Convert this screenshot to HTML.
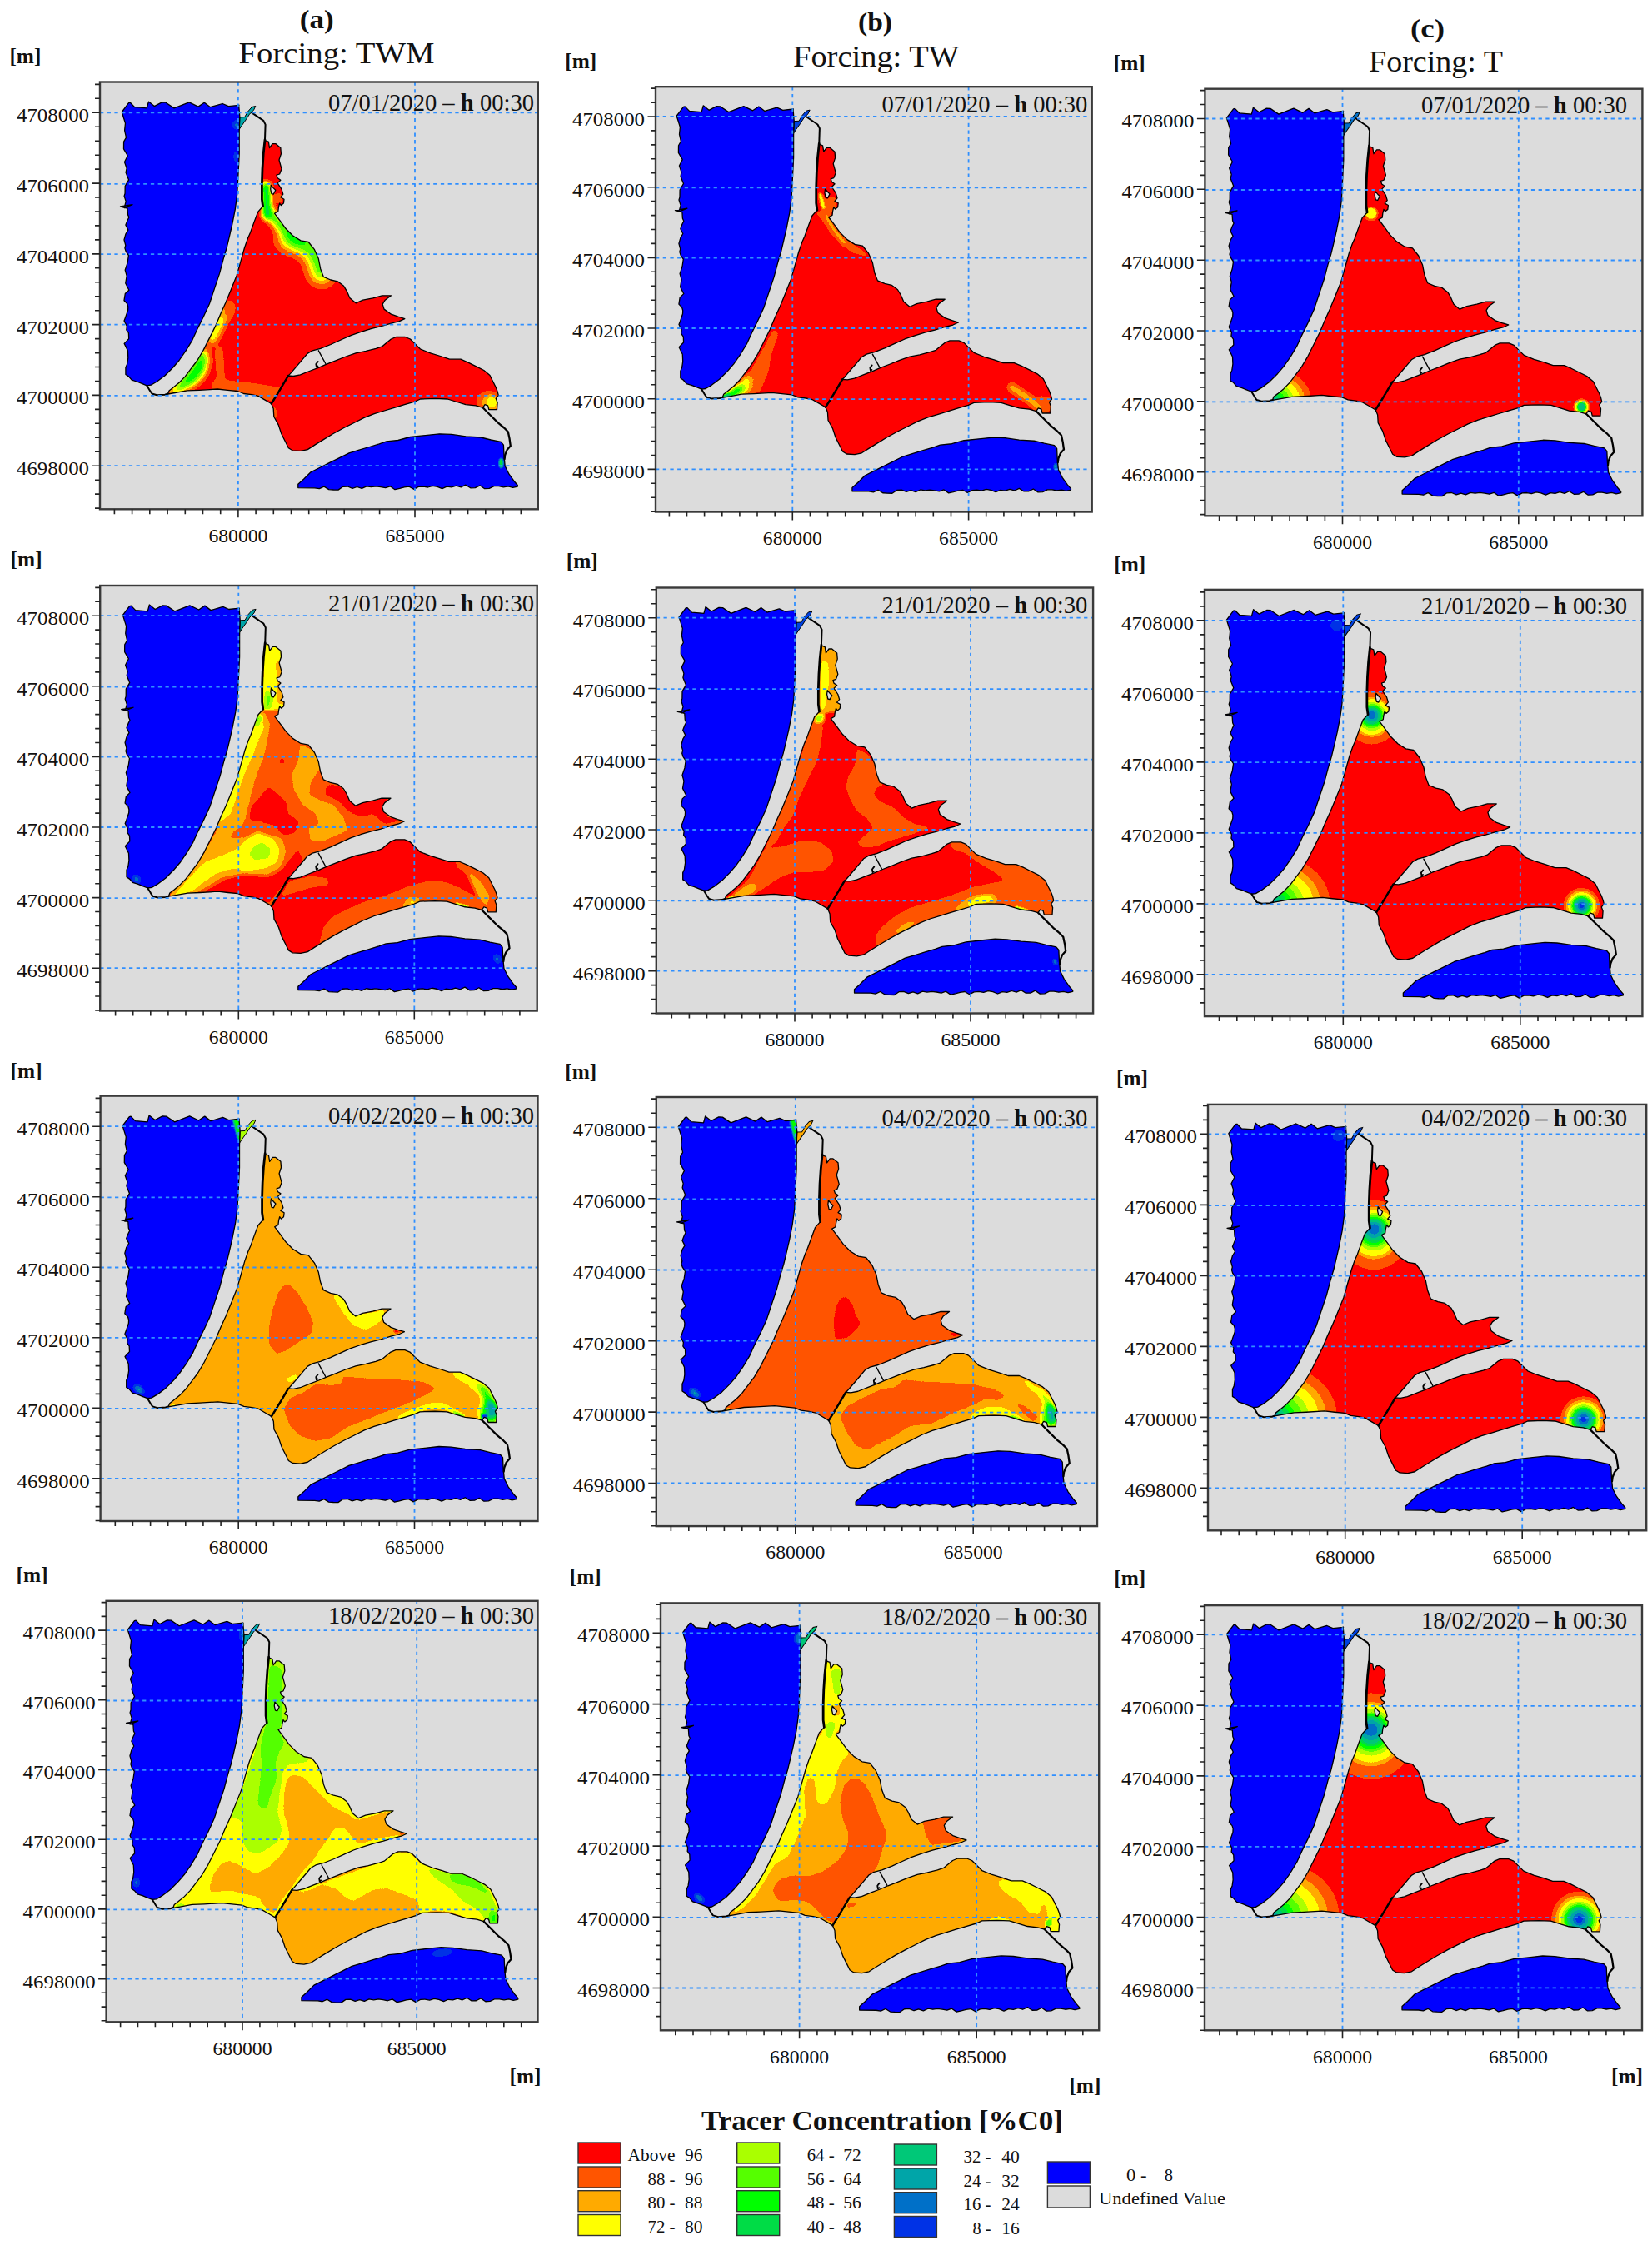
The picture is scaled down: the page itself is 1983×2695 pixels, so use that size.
<!DOCTYPE html>
<html><head><meta charset="utf-8"><title>Tracer Concentration</title>
<style>html,body{margin:0;padding:0;background:#fff}svg{display:block}text{font-family:"Liberation Serif", "DejaVu Serif", serif;fill:#111}</style></head><body>
<svg width="1983" height="2695" viewBox="0 0 1983 2695">
<defs>
<filter id="bands" filterUnits="userSpaceOnUse" x="100" y="90" width="560" height="530" color-interpolation-filters="sRGB"><feGaussianBlur stdDeviation="0.6"/><feComponentTransfer><feFuncR type="discrete" tableValues="0.0000 0.0000 0.0000 0.0000 0.0000 0.0000 0.0000 0.3333 0.6667 1.0000 1.0000 1.0000 1.0000"/><feFuncG type="discrete" tableValues="0.0000 0.1961 0.4392 0.6471 0.7843 0.8627 1.0000 1.0000 1.0000 1.0000 0.6667 0.3333 0.0000"/><feFuncB type="discrete" tableValues="1.0000 0.9020 0.7843 0.6588 0.4706 0.2745 0.0000 0.0000 0.0000 0.0000 0.0000 0.0000 0.0000"/><feFuncA type="linear" slope="0" intercept="1"/></feComponentTransfer></filter>
<filter id="b1" filterUnits="userSpaceOnUse" x="60" y="60" width="640" height="600" color-interpolation-filters="sRGB"><feGaussianBlur stdDeviation="1"/></filter>
<filter id="b2" filterUnits="userSpaceOnUse" x="60" y="60" width="640" height="600" color-interpolation-filters="sRGB"><feGaussianBlur stdDeviation="2"/></filter>
<filter id="b3" filterUnits="userSpaceOnUse" x="60" y="60" width="640" height="600" color-interpolation-filters="sRGB"><feGaussianBlur stdDeviation="3"/></filter>
<filter id="b4" filterUnits="userSpaceOnUse" x="60" y="60" width="640" height="600" color-interpolation-filters="sRGB"><feGaussianBlur stdDeviation="4"/></filter>
<filter id="b5" filterUnits="userSpaceOnUse" x="60" y="60" width="640" height="600" color-interpolation-filters="sRGB"><feGaussianBlur stdDeviation="5"/></filter>
<filter id="b6" filterUnits="userSpaceOnUse" x="60" y="60" width="640" height="600" color-interpolation-filters="sRGB"><feGaussianBlur stdDeviation="6"/></filter>
<filter id="b7" filterUnits="userSpaceOnUse" x="60" y="60" width="640" height="600" color-interpolation-filters="sRGB"><feGaussianBlur stdDeviation="7"/></filter>
<filter id="b8" filterUnits="userSpaceOnUse" x="60" y="60" width="640" height="600" color-interpolation-filters="sRGB"><feGaussianBlur stdDeviation="8"/></filter>
<filter id="b9" filterUnits="userSpaceOnUse" x="60" y="60" width="640" height="600" color-interpolation-filters="sRGB"><feGaussianBlur stdDeviation="9"/></filter>
<filter id="b10" filterUnits="userSpaceOnUse" x="60" y="60" width="640" height="600" color-interpolation-filters="sRGB"><feGaussianBlur stdDeviation="10"/></filter>
<filter id="b11" filterUnits="userSpaceOnUse" x="60" y="60" width="640" height="600" color-interpolation-filters="sRGB"><feGaussianBlur stdDeviation="11"/></filter>
<filter id="b12" filterUnits="userSpaceOnUse" x="60" y="60" width="640" height="600" color-interpolation-filters="sRGB"><feGaussianBlur stdDeviation="12"/></filter>
<filter id="b13" filterUnits="userSpaceOnUse" x="60" y="60" width="640" height="600" color-interpolation-filters="sRGB"><feGaussianBlur stdDeviation="13"/></filter>
<filter id="b14" filterUnits="userSpaceOnUse" x="60" y="60" width="640" height="600" color-interpolation-filters="sRGB"><feGaussianBlur stdDeviation="14"/></filter>
<filter id="b15" filterUnits="userSpaceOnUse" x="60" y="60" width="640" height="600" color-interpolation-filters="sRGB"><feGaussianBlur stdDeviation="15"/></filter>
<clipPath id="cN"><path d="M318 169 L319.2 169 L322.3 170.2 L323.5 177.5 L327.1 172.6 L330.8 172.6 L336.8 177.5 L337.4 184.7 L335 192 L338 202.9 L335.6 209 L332 210.2 L333.2 213.8 L336.8 216.2 L333.2 219.9 L338 227.1 L339.8 233.2 L336.8 236.8 L341 239.2 L340.4 244.1 L337.4 246.5 L335.6 244.1 L334.4 248.9 L333.8 253.8 L329.5 256.2 L336.8 265.9 L342.9 274.3 L351.3 282.8 L361 288.9 L370.2 290.5 L377.5 299.7 L382.3 310.6 L384.7 322.7 L388.4 332.4 L396.9 336 L405.3 337.8 L412.6 343.3 L416.2 349.3 L419.9 357.8 L427.1 363.8 L435.6 360.2 L447.7 357.8 L458.6 354.8 L469.5 354.8 L462.2 360.2 L459.2 365.1 L461 371.1 L469.5 377.2 L478 380.2 L485.8 382.6 L479.2 385.6 L469.5 388.1 L457.4 391.7 L445.3 394.7 L433.2 398.4 L421.1 402.6 L409 408 L396.9 413.5 L384.7 418.3 L375.1 420.8 L369 424.4 L362.9 431.7 L355.7 440.1 L348.4 448.6 L346 451 L339.1 462.7 L331.8 474.8 L325.7 484.5 L317.3 479.6 L310 475.4 L302.2 473.7 L292.5 472.5 L285.3 469.5 L273.2 468.3 L261.1 467 L239.3 468.3 L224.7 468.9 L210 471.5 L201.5 473 L203 468.9 L207.8 465.2 L215.1 459.2 L222.3 451.9 L229.6 442.2 L236.9 432.5 L244.1 420.4 L251.4 405.9 L258.6 391.4 L264.7 376.9 L270.8 363.5 L276.8 349 L284.1 330.8 L288.9 313.9 L293.5 297.5 L297.5 286 L300.5 279.2 L305.3 265.9 L309.6 254.4 L315.6 247.7 L314.4 239.2 L314.4 221.1 L315 202.9 L316.2 184.7ZM325.3 222.3 L328.3 225.9 L330.8 228.3 L328.3 233.2 L325.9 232.6 L324.7 227.1Z" clip-rule="evenodd"/></clipPath>
<clipPath id="cE"><path d="M325.7 484.5 L331.8 474.8 L339.1 462.7 L346 451 L352.1 451.5 L360.5 449.8 L372.6 445 L382.3 441.3 L392 437.1 L402.9 432.9 L415 428 L427.1 423.8 L439.2 421.4 L451.3 418.3 L458.6 415.9 L462.1 413 L469.4 407 L475.4 404.5 L486.3 404.5 L492.4 407 L498.4 413 L504.5 419 L516.6 423.9 L528.7 427.5 L539.6 431.2 L552.9 431.2 L561.4 434.8 L571.1 439.6 L580.8 444.5 L588 450.5 L591.6 457.8 L595.3 465.1 L597.1 469.9 L598.3 474.7 L595.3 478.4 L597.1 483.2 L596.5 491.7 L586.8 491.7 L585.6 486.9 L582 485.6 L579.5 489.3 L571.1 486.9 L559 485.6 L546.9 482 L537.2 479 L522.6 478.4 L504.5 479 L497.7 482.1 L485.5 485.7 L473.4 489.3 L461.3 493 L449.2 496.6 L437.1 501.4 L425 507.5 L412.9 513.5 L399.6 520.8 L387.5 528.1 L377.8 534.1 L369.3 539.6 L360.8 541.4 L351.2 540.8 L346.3 537.8 L342.7 530.5 L337.8 520.8 L334.2 509.9 L328.8 500.2 L328.2 490.5Z"/></clipPath>
<clipPath id="cW"><path d="M146.3 134.5 L154.5 123.6 L156.3 123.2 L161.7 128.7 L176.3 129.9 L178.4 122.1 L185.3 127.6 L194.4 122.9 L199 123.2 L209 129.9 L227.1 122.9 L238 128.1 L245.3 123.2 L252.5 128.7 L267.1 124.5 L274.3 127.6 L287 126.3 L286.6 126 L287.8 140 L287.2 158.1 L287.2 184.7 L286 209 L284.7 233.2 L282.3 251.3 L278.7 269.5 L275.1 285.2 L272 298 L268.3 310.3 L263.5 328.4 L257.4 346.6 L251.4 364.7 L244.1 380.5 L236.9 395 L230.8 408.3 L223.5 420.4 L215.1 432.5 L207.8 441 L198.1 450.7 L188.4 458 L181.2 462.2 L176.3 462.8 L170.3 460.4 L164.2 458 L158.2 456.2 L154.5 451.9 L150.9 449.5 L150.9 441 L152.7 437 L153.8 429.5 L153.4 420.9 L149.2 412.4 L154.7 406.6 L154.4 399.7 L151.8 396 L152.3 391.5 L149.1 385.1 L150.7 380.8 L153.6 372.3 L153.8 368.3 L152.7 364.5 L149 360.7 L150.3 352.5 L154.9 348.2 L150.7 340 L152.2 331.2 L150.2 324.1 L153.1 315.5 L154.4 306.7 L151.2 301.9 L149.9 297.9 L150.8 294.5 L149 287.9 L151 280.8 L153.9 276 L150.9 270.1 L153.2 264.2 L154.9 260.8 L153.5 257.7 L153 250 L144.5 248 L159 245.6 L149.1 249.6 L151.2 241.9 L149.1 235.4 L150.1 232.2 L150.2 223.4 L154.6 215.9 L151.1 207.2 L152.1 202.1 L149.5 194.5 L153.3 187 L148.5 178.8 L148.6 170.1 L151.5 165.1 L149.6 156.6 L150.5 148 L149 143.2Z"/></clipPath>
<clipPath id="cS"><path d="M357.8 581.3 L364.5 575.3 L373 566.8 L382.6 562 L394.7 555.9 L406.9 549.9 L419 543.8 L431.1 540.2 L443.2 536.5 L455.3 532.9 L463.8 529.9 L477.8 528.5 L492.4 524.5 L510.5 522.6 L527.5 520.8 L542 521.4 L559 523.8 L577.1 525 L589.2 528 L601.3 530.4 L604.4 534.1 L605 547.4 L606.2 559.5 L611 569.2 L617.1 577.7 L621.3 582.5 L621.3 584 L615.6 585.3 L610 583.9 L604.3 584.8 L598.6 583.7 L593 583.7 L587.3 586.4 L581.7 586.7 L576 582.8 L570.3 585.7 L564.7 585.8 L559 582.2 L553.3 584.8 L547.6 583.1 L542 584.9 L536.3 584.2 L530.7 586.6 L525 584.3 L519.3 583.3 L513.6 585 L508 584 L502.3 584.4 L496.7 587.3 L491 584.1 L485.3 584.9 L479.7 586.4 L474 587.7 L468.3 583.8 L462.7 585.7 L457 584.6 L451.3 583.9 L445.6 584.7 L440 583.8 L434.3 586.4 L428.6 584.5 L423 586.3 L417.3 584 L411.6 584.3 L406 588.1 L400.3 588 L394.7 587.6 L389 584.1 L383.3 586.7 L377.7 585.8 L357.8 585.6Z"/></clipPath>
<path id="pN" d="M318 169 L319.2 169 L322.3 170.2 L323.5 177.5 L327.1 172.6 L330.8 172.6 L336.8 177.5 L337.4 184.7 L335 192 L338 202.9 L335.6 209 L332 210.2 L333.2 213.8 L336.8 216.2 L333.2 219.9 L338 227.1 L339.8 233.2 L336.8 236.8 L341 239.2 L340.4 244.1 L337.4 246.5 L335.6 244.1 L334.4 248.9 L333.8 253.8 L329.5 256.2 L336.8 265.9 L342.9 274.3 L351.3 282.8 L361 288.9 L370.2 290.5 L377.5 299.7 L382.3 310.6 L384.7 322.7 L388.4 332.4 L396.9 336 L405.3 337.8 L412.6 343.3 L416.2 349.3 L419.9 357.8 L427.1 363.8 L435.6 360.2 L447.7 357.8 L458.6 354.8 L469.5 354.8 L462.2 360.2 L459.2 365.1 L461 371.1 L469.5 377.2 L478 380.2 L485.8 382.6 L479.2 385.6 L469.5 388.1 L457.4 391.7 L445.3 394.7 L433.2 398.4 L421.1 402.6 L409 408 L396.9 413.5 L384.7 418.3 L375.1 420.8 L369 424.4 L362.9 431.7 L355.7 440.1 L348.4 448.6 L346 451 L339.1 462.7 L331.8 474.8 L325.7 484.5 L317.3 479.6 L310 475.4 L302.2 473.7 L292.5 472.5 L285.3 469.5 L273.2 468.3 L261.1 467 L239.3 468.3 L224.7 468.9 L210 471.5 L201.5 473 L203 468.9 L207.8 465.2 L215.1 459.2 L222.3 451.9 L229.6 442.2 L236.9 432.5 L244.1 420.4 L251.4 405.9 L258.6 391.4 L264.7 376.9 L270.8 363.5 L276.8 349 L284.1 330.8 L288.9 313.9 L293.5 297.5 L297.5 286 L300.5 279.2 L305.3 265.9 L309.6 254.4 L315.6 247.7 L314.4 239.2 L314.4 221.1 L315 202.9 L316.2 184.7ZM325.3 222.3 L328.3 225.9 L330.8 228.3 L328.3 233.2 L325.9 232.6 L324.7 227.1Z" fill-rule="evenodd"/>
<path id="pE" d="M325.7 484.5 L331.8 474.8 L339.1 462.7 L346 451 L352.1 451.5 L360.5 449.8 L372.6 445 L382.3 441.3 L392 437.1 L402.9 432.9 L415 428 L427.1 423.8 L439.2 421.4 L451.3 418.3 L458.6 415.9 L462.1 413 L469.4 407 L475.4 404.5 L486.3 404.5 L492.4 407 L498.4 413 L504.5 419 L516.6 423.9 L528.7 427.5 L539.6 431.2 L552.9 431.2 L561.4 434.8 L571.1 439.6 L580.8 444.5 L588 450.5 L591.6 457.8 L595.3 465.1 L597.1 469.9 L598.3 474.7 L595.3 478.4 L597.1 483.2 L596.5 491.7 L586.8 491.7 L585.6 486.9 L582 485.6 L579.5 489.3 L571.1 486.9 L559 485.6 L546.9 482 L537.2 479 L522.6 478.4 L504.5 479 L497.7 482.1 L485.5 485.7 L473.4 489.3 L461.3 493 L449.2 496.6 L437.1 501.4 L425 507.5 L412.9 513.5 L399.6 520.8 L387.5 528.1 L377.8 534.1 L369.3 539.6 L360.8 541.4 L351.2 540.8 L346.3 537.8 L342.7 530.5 L337.8 520.8 L334.2 509.9 L328.8 500.2 L328.2 490.5Z"/>
<path id="pW" d="M146.3 134.5 L154.5 123.6 L156.3 123.2 L161.7 128.7 L176.3 129.9 L178.4 122.1 L185.3 127.6 L194.4 122.9 L199 123.2 L209 129.9 L227.1 122.9 L238 128.1 L245.3 123.2 L252.5 128.7 L267.1 124.5 L274.3 127.6 L287 126.3 L286.6 126 L287.8 140 L287.2 158.1 L287.2 184.7 L286 209 L284.7 233.2 L282.3 251.3 L278.7 269.5 L275.1 285.2 L272 298 L268.3 310.3 L263.5 328.4 L257.4 346.6 L251.4 364.7 L244.1 380.5 L236.9 395 L230.8 408.3 L223.5 420.4 L215.1 432.5 L207.8 441 L198.1 450.7 L188.4 458 L181.2 462.2 L176.3 462.8 L170.3 460.4 L164.2 458 L158.2 456.2 L154.5 451.9 L150.9 449.5 L150.9 441 L152.7 437 L153.8 429.5 L153.4 420.9 L149.2 412.4 L154.7 406.6 L154.4 399.7 L151.8 396 L152.3 391.5 L149.1 385.1 L150.7 380.8 L153.6 372.3 L153.8 368.3 L152.7 364.5 L149 360.7 L150.3 352.5 L154.9 348.2 L150.7 340 L152.2 331.2 L150.2 324.1 L153.1 315.5 L154.4 306.7 L151.2 301.9 L149.9 297.9 L150.8 294.5 L149 287.9 L151 280.8 L153.9 276 L150.9 270.1 L153.2 264.2 L154.9 260.8 L153.5 257.7 L153 250 L144.5 248 L159 245.6 L149.1 249.6 L151.2 241.9 L149.1 235.4 L150.1 232.2 L150.2 223.4 L154.6 215.9 L151.1 207.2 L152.1 202.1 L149.5 194.5 L153.3 187 L148.5 178.8 L148.6 170.1 L151.5 165.1 L149.6 156.6 L150.5 148 L149 143.2Z"/>
<path id="pS" d="M357.8 581.3 L364.5 575.3 L373 566.8 L382.6 562 L394.7 555.9 L406.9 549.9 L419 543.8 L431.1 540.2 L443.2 536.5 L455.3 532.9 L463.8 529.9 L477.8 528.5 L492.4 524.5 L510.5 522.6 L527.5 520.8 L542 521.4 L559 523.8 L577.1 525 L589.2 528 L601.3 530.4 L604.4 534.1 L605 547.4 L606.2 559.5 L611 569.2 L617.1 577.7 L621.3 582.5 L621.3 584 L615.6 585.3 L610 583.9 L604.3 584.8 L598.6 583.7 L593 583.7 L587.3 586.4 L581.7 586.7 L576 582.8 L570.3 585.7 L564.7 585.8 L559 582.2 L553.3 584.8 L547.6 583.1 L542 584.9 L536.3 584.2 L530.7 586.6 L525 584.3 L519.3 583.3 L513.6 585 L508 584 L502.3 584.4 L496.7 587.3 L491 584.1 L485.3 584.9 L479.7 586.4 L474 587.7 L468.3 583.8 L462.7 585.7 L457 584.6 L451.3 583.9 L445.6 584.7 L440 583.8 L434.3 586.4 L428.6 584.5 L423 586.3 L417.3 584 L411.6 584.3 L406 588.1 L400.3 588 L394.7 587.6 L389 584.1 L383.3 586.7 L377.7 585.8 L357.8 585.6Z"/>
<g id="coast" fill="none" stroke="#000" stroke-linejoin="round" stroke-linecap="round"><path d="M302.2 135.3 L316.2 144.8 L318.6 149.6 L318 167.8" stroke-width="2"/><path d="M318 167.8 L316.2 184.7 L315 202.9 L314.4 221.1 L314.4 239.2 L315.6 247.7" stroke-width="2.8"/><path d="M176.3 462.8 L180 468.9 L182.4 472.5 L188.4 474.3 L198.1 473.7 L201.7 472.5" stroke-width="2"/><path d="M579.5 489.3 L589.2 499 L597.7 507.4 L605 513.5 L609.8 518.3 L611.6 526.8 L612.8 535.3 L608.6 540.1 L606.2 546.2 L605.6 551" stroke-width="2.3"/><path d="M325.7 484.5 L331.8 474.8 L339.1 462.7 L346 451" stroke-width="2.4"/><path d="M382.3 420.8 L390.8 436.5" stroke-width="1.4"/><path d="M381.7 434 L379.3 437.1 L379.9 440.7 L381.4 439.5" stroke-width="1.8"/></g>
<radialGradient id="rg1" color-interpolation="sRGB"><stop offset="0.000" stop-color="#3b3b3b"/><stop offset="0.149" stop-color="#626262"/><stop offset="0.307" stop-color="#898989"/><stop offset="0.426" stop-color="#9d9d9d"/><stop offset="0.535" stop-color="#b1b1b1"/><stop offset="0.693" stop-color="#c4c4c4"/><stop offset="0.822" stop-color="#d8d8d8"/><stop offset="0.990" stop-color="#ebebeb"/><stop offset="1.000" stop-color="#f5f5f5"/></radialGradient><radialGradient id="rg2" color-interpolation="sRGB" fx="0.5" fy="0.432"><stop offset="0.000" stop-color="#b1b1b1"/><stop offset="0.149" stop-color="#b1b1b1"/><stop offset="0.228" stop-color="#b1b1b1"/><stop offset="0.297" stop-color="#b1b1b1"/><stop offset="0.455" stop-color="#b1b1b1"/><stop offset="0.535" stop-color="#b1b1b1"/><stop offset="0.663" stop-color="#c4c4c4"/><stop offset="0.743" stop-color="#d8d8d8"/><stop offset="0.990" stop-color="#ebebeb"/><stop offset="1.000" stop-color="#f5f5f5"/></radialGradient><radialGradient id="rg3" color-interpolation="sRGB"><stop offset="0.000" stop-color="#535353"/><stop offset="0.119" stop-color="#535353"/><stop offset="0.218" stop-color="#535353"/><stop offset="0.317" stop-color="#535353"/><stop offset="0.396" stop-color="#626262"/><stop offset="0.554" stop-color="#9d9d9d"/><stop offset="0.634" stop-color="#b1b1b1"/><stop offset="0.733" stop-color="#c4c4c4"/><stop offset="0.842" stop-color="#d8d8d8"/><stop offset="0.990" stop-color="#ebebeb"/><stop offset="1.000" stop-color="#f5f5f5"/></radialGradient><radialGradient id="rg4" color-interpolation="sRGB"><stop offset="0.000" stop-color="#3b3b3b"/><stop offset="0.149" stop-color="#626262"/><stop offset="0.307" stop-color="#898989"/><stop offset="0.426" stop-color="#9d9d9d"/><stop offset="0.535" stop-color="#b1b1b1"/><stop offset="0.693" stop-color="#c4c4c4"/><stop offset="0.822" stop-color="#d8d8d8"/><stop offset="0.990" stop-color="#ebebeb"/><stop offset="1.000" stop-color="#f5f5f5"/></radialGradient><radialGradient id="rg5" color-interpolation="sRGB" fx="0.5" fy="0.438"><stop offset="0.000" stop-color="#2c2c2c"/><stop offset="0.149" stop-color="#3b3b3b"/><stop offset="0.228" stop-color="#4e4e4e"/><stop offset="0.297" stop-color="#626262"/><stop offset="0.455" stop-color="#9d9d9d"/><stop offset="0.535" stop-color="#b1b1b1"/><stop offset="0.663" stop-color="#c4c4c4"/><stop offset="0.743" stop-color="#d8d8d8"/><stop offset="0.990" stop-color="#ebebeb"/><stop offset="1.000" stop-color="#f5f5f5"/></radialGradient><radialGradient id="rg6" color-interpolation="sRGB"><stop offset="0.000" stop-color="#141414"/><stop offset="0.119" stop-color="#272727"/><stop offset="0.218" stop-color="#3b3b3b"/><stop offset="0.317" stop-color="#4e4e4e"/><stop offset="0.396" stop-color="#626262"/><stop offset="0.554" stop-color="#9d9d9d"/><stop offset="0.634" stop-color="#b1b1b1"/><stop offset="0.733" stop-color="#c4c4c4"/><stop offset="0.842" stop-color="#d8d8d8"/><stop offset="0.990" stop-color="#ebebeb"/><stop offset="1.000" stop-color="#f5f5f5"/></radialGradient><radialGradient id="rg7" color-interpolation="sRGB"><stop offset="0.000" stop-color="#3b3b3b"/><stop offset="0.149" stop-color="#626262"/><stop offset="0.307" stop-color="#898989"/><stop offset="0.426" stop-color="#9d9d9d"/><stop offset="0.535" stop-color="#b1b1b1"/><stop offset="0.693" stop-color="#c4c4c4"/><stop offset="0.822" stop-color="#d8d8d8"/><stop offset="0.990" stop-color="#ebebeb"/><stop offset="1.000" stop-color="#f5f5f5"/></radialGradient><radialGradient id="rg8" color-interpolation="sRGB" fx="0.5" fy="0.405"><stop offset="0.000" stop-color="#2c2c2c"/><stop offset="0.149" stop-color="#3b3b3b"/><stop offset="0.228" stop-color="#4e4e4e"/><stop offset="0.297" stop-color="#626262"/><stop offset="0.455" stop-color="#9d9d9d"/><stop offset="0.535" stop-color="#b1b1b1"/><stop offset="0.663" stop-color="#c4c4c4"/><stop offset="0.743" stop-color="#d8d8d8"/><stop offset="0.990" stop-color="#ebebeb"/><stop offset="1.000" stop-color="#f5f5f5"/></radialGradient><radialGradient id="rg9" color-interpolation="sRGB"><stop offset="0.000" stop-color="#141414"/><stop offset="0.119" stop-color="#272727"/><stop offset="0.218" stop-color="#3b3b3b"/><stop offset="0.317" stop-color="#4e4e4e"/><stop offset="0.396" stop-color="#626262"/><stop offset="0.554" stop-color="#9d9d9d"/><stop offset="0.634" stop-color="#b1b1b1"/><stop offset="0.733" stop-color="#c4c4c4"/><stop offset="0.842" stop-color="#d8d8d8"/><stop offset="0.990" stop-color="#ebebeb"/><stop offset="1.000" stop-color="#f5f5f5"/></radialGradient><radialGradient id="rg10" color-interpolation="sRGB"><stop offset="0.000" stop-color="#3b3b3b"/><stop offset="0.149" stop-color="#626262"/><stop offset="0.307" stop-color="#898989"/><stop offset="0.426" stop-color="#9d9d9d"/><stop offset="0.535" stop-color="#b1b1b1"/><stop offset="0.693" stop-color="#c4c4c4"/><stop offset="0.822" stop-color="#d8d8d8"/><stop offset="0.990" stop-color="#ebebeb"/><stop offset="1.000" stop-color="#f5f5f5"/></radialGradient><radialGradient id="rg11" color-interpolation="sRGB" fx="0.5" fy="0.413"><stop offset="0.000" stop-color="#2c2c2c"/><stop offset="0.149" stop-color="#3b3b3b"/><stop offset="0.228" stop-color="#4e4e4e"/><stop offset="0.297" stop-color="#626262"/><stop offset="0.455" stop-color="#9d9d9d"/><stop offset="0.535" stop-color="#b1b1b1"/><stop offset="0.663" stop-color="#c4c4c4"/><stop offset="0.743" stop-color="#d8d8d8"/><stop offset="0.990" stop-color="#ebebeb"/><stop offset="1.000" stop-color="#f5f5f5"/></radialGradient><radialGradient id="rg12" color-interpolation="sRGB"><stop offset="0.000" stop-color="#141414"/><stop offset="0.119" stop-color="#272727"/><stop offset="0.218" stop-color="#3b3b3b"/><stop offset="0.317" stop-color="#4e4e4e"/><stop offset="0.396" stop-color="#626262"/><stop offset="0.554" stop-color="#9d9d9d"/><stop offset="0.634" stop-color="#b1b1b1"/><stop offset="0.733" stop-color="#c4c4c4"/><stop offset="0.842" stop-color="#d8d8d8"/><stop offset="0.990" stop-color="#ebebeb"/><stop offset="1.000" stop-color="#f5f5f5"/></radialGradient>
</defs>
<rect width="1983" height="2695" fill="#fff"/>
<g>
<rect x="120" y="98.5" width="525.8" height="512.8" fill="#dcdcdc"/>
<g transform="matrix(1.00000 0 0 1.00000 0.000 0.000)">
<g clip-path="url(#cW)"><g filter="url(#bands)"><rect x="100" y="90" width="560" height="530" fill="#0a0a0a"/><ellipse cx="284" cy="150" rx="4" ry="5" transform="rotate(0 284 150)" fill="#313131" filter="url(#b2)"/><ellipse cx="283" cy="188" rx="3" ry="8" transform="rotate(0 283 188)" fill="#1d1d1d" filter="url(#b2)"/></g></g>
<g clip-path="url(#cS)"><g filter="url(#bands)"><rect x="100" y="90" width="560" height="530" fill="#0a0a0a"/><ellipse cx="601.5" cy="556" rx="2.5" ry="6" transform="rotate(0 601.5 556)" fill="#717171" filter="url(#b1)"/></g></g>
<g clip-path="url(#cN)"><g filter="url(#bands)"><rect x="100" y="90" width="560" height="530" fill="#f5f5f5"/><path d="M324 256 L336 270 L348 283 L360 290" fill="none" stroke="#6e6e6e" stroke-width="9" stroke-linecap="round" stroke-linejoin="round" filter="url(#b5)"/><path d="M348 286 L366 291 L379 302 L385 315 L386 327" fill="none" stroke="#7b7b7b" stroke-width="22" stroke-linecap="round" stroke-linejoin="round" filter="url(#b8)"/><path d="M319 224 L321 258" fill="none" stroke="#626262" stroke-width="10" stroke-linecap="round" stroke-linejoin="round" filter="url(#b3)"/><ellipse cx="334" cy="238" rx="4" ry="5" transform="rotate(0 334 238)" fill="#d3d3d3" filter="url(#b2)"/><path d="M246 418 L249 431 L247 444 L240 455 L228 464 L200 476 L212 462 L228 442 L242 420Z" fill="#767676" filter="url(#b5)"/><path d="M271 372 L264 388 L254 408" fill="none" stroke="#a2a2a2" stroke-width="9" stroke-linecap="round" stroke-linejoin="round" filter="url(#b4)"/><ellipse cx="274" cy="372" rx="7" ry="11" transform="rotate(20 274 372)" fill="#dddddd" filter="url(#b3)"/><path d="M262 464 L300 468 L332 473" fill="none" stroke="#dddddd" stroke-width="16" stroke-linecap="round" stroke-linejoin="round" filter="url(#b2)"/><path d="M263 420 L265 455" fill="none" stroke="#dddddd" stroke-width="8" stroke-linecap="round" stroke-linejoin="round" filter="url(#b3)"/></g></g>
<g clip-path="url(#cE)"><g filter="url(#bands)"><rect x="100" y="90" width="560" height="530" fill="#f5f5f5"/><ellipse cx="586" cy="482" rx="14" ry="12" transform="rotate(0 586 482)" fill="#dddddd" filter="url(#b3)"/><ellipse cx="590" cy="483" rx="8" ry="8" transform="rotate(0 590 483)" fill="#b5b5b5" filter="url(#b3)"/><ellipse cx="329" cy="496" rx="2.5" ry="9" transform="rotate(0 329 496)" fill="#dddddd" filter="url(#b2)"/></g></g>
<path d="M287.9 140.9 L293.7 140.6 L297.5 134 L302.4 128.5 L306.8 127.4 L304.6 132.1 L299.5 137.2 L295.2 143.8 L290.1 151 L287.2 155.4Z" fill="#00a5a8" stroke="#000" stroke-width="1"/>
<g fill="none" stroke="#000" stroke-width="1.3" stroke-linejoin="round"><use href="#pW"/><use href="#pS"/><use href="#pN"/><use href="#pE"/></g>
<use href="#coast"/>
</g>
<path d="M285.9 98.5 V611.3 M498 98.5 V611.3 M120 559.2 H645.8 M120 474.9 H645.8 M120 389.6 H645.8 M120 305.2 H645.8 M120 220.8 H645.8 M120 135.3 H645.8" fill="none" stroke="#2f8fff" stroke-width="1.8" stroke-dasharray="4.3 4.4"/>
<rect x="120" y="98.5" width="525.8" height="512.8" fill="none" stroke="#3a3a3a" stroke-width="2.4"/>
<path d="M120 610.1 h-6 M120 593.1 h-6 M120 576.2 h-6 M120 559.2 h-9.5 M120 542.2 h-6 M120 525.3 h-6 M120 508.3 h-6 M120 491.4 h-6 M120 474.4 h-9.5 M120 457.5 h-6 M120 440.5 h-6 M120 423.6 h-6 M120 406.6 h-6 M120 389.6 h-9.5 M120 372.7 h-6 M120 355.7 h-6 M120 338.8 h-6 M120 321.8 h-6 M120 304.9 h-9.5 M120 287.9 h-6 M120 270.9 h-6 M120 254 h-6 M120 237 h-6 M120 220.1 h-9.5 M120 203.1 h-6 M120 186.2 h-6 M120 169.2 h-6 M120 152.3 h-6 M120 135.3 h-9.5 M120 118.3 h-6 M120 101.4 h-6 M137.4 611.3 v6 M158.6 611.3 v6 M179.8 611.3 v6 M201.1 611.3 v6 M222.3 611.3 v6 M243.5 611.3 v6 M264.7 611.3 v6 M285.9 611.3 v10 M307.1 611.3 v6 M328.3 611.3 v6 M349.5 611.3 v6 M370.7 611.3 v6 M391.9 611.3 v6 M413.2 611.3 v6 M434.4 611.3 v6 M455.6 611.3 v6 M476.8 611.3 v6 M498 611.3 v10 M519.2 611.3 v6 M540.4 611.3 v6 M561.6 611.3 v6 M582.8 611.3 v6 M604 611.3 v6 M625.3 611.3 v6" fill="none" stroke="#222" stroke-width="1.6"/>
<text x="107" y="570.1" font-size="23.3" text-anchor="end" textLength="87" lengthAdjust="spacingAndGlyphs">4698000</text>
<text x="107" y="485.3" font-size="23.3" text-anchor="end" textLength="87" lengthAdjust="spacingAndGlyphs">4700000</text>
<text x="107" y="400.5" font-size="23.3" text-anchor="end" textLength="87" lengthAdjust="spacingAndGlyphs">4702000</text>
<text x="107" y="315.8" font-size="23.3" text-anchor="end" textLength="87" lengthAdjust="spacingAndGlyphs">4704000</text>
<text x="107" y="231" font-size="23.3" text-anchor="end" textLength="87" lengthAdjust="spacingAndGlyphs">4706000</text>
<text x="107" y="146.2" font-size="23.3" text-anchor="end" textLength="87" lengthAdjust="spacingAndGlyphs">4708000</text>
<text x="285.9" y="650.6" font-size="23" text-anchor="middle" textLength="71" lengthAdjust="spacingAndGlyphs">680000</text>
<text x="498" y="650.6" font-size="23" text-anchor="middle" textLength="71" lengthAdjust="spacingAndGlyphs">685000</text>
<text x="11.4" y="75.9" font-size="25" font-weight="bold" textLength="38" lengthAdjust="spacingAndGlyphs" fill="#222">[m]</text>
<text x="641" y="132.7" font-size="29" text-anchor="end" textLength="247" lengthAdjust="spacingAndGlyphs">07/01/2020 – <tspan font-weight="bold">h</tspan> 00:30</text>
</g>
<g>
<rect x="787" y="104.2" width="523.7" height="510.3" fill="#dcdcdc"/>
<g transform="matrix(0.99623 0 0 0.99882 666.478 4.860)">
<g clip-path="url(#cW)"><g filter="url(#bands)"><rect x="100" y="90" width="560" height="530" fill="#0a0a0a"/></g></g>
<g clip-path="url(#cS)"><g filter="url(#bands)"><rect x="100" y="90" width="560" height="530" fill="#0a0a0a"/><ellipse cx="603" cy="556" rx="2" ry="4" transform="rotate(0 603 556)" fill="#454545" filter="url(#b1)"/></g></g>
<g clip-path="url(#cN)"><g filter="url(#bands)"><rect x="100" y="90" width="560" height="530" fill="#f5f5f5"/><path d="M263.7 390.8 L268.3 397.2 L259.3 422.6 L256.8 440.4 L250.4 455.7 L246.6 465.4 L219.8 471.5 L199.4 475.6 L219.8 459.5 L235.1 443 L247.9 420.1Z" fill="#dddddd" filter="url(#b2)"/><path d="M201.9 473.5 L219.8 459.5 L232.5 444.2 L241.5 448.1 L238.9 464.6 L219.8 471Z" fill="#d8d8d8" filter="url(#b2)"/><path d="M201.9 473.5 L219.8 459.5 L230 448.1 L235.1 451.9 L232.5 464.6 L217.2 471Z" fill="#b5b5b5" filter="url(#b2)"/><path d="M199.4 474.8 L214.7 463.3 L223.6 458.2 L226.2 464.6 L214.7 472.2Z" fill="#6e6e6e" filter="url(#b3)"/><path d="M196.8 475.6 L207 468.9 L212.1 471 L204.5 475Z" fill="#0c0c0c" filter="url(#b2)"/><path d="M312.9 248.2 L327 252.1 L337.2 269.9 L349.9 282.6 L372.9 299.1 L379.3 304.2 L357.6 297.9 L344.8 287.7 L332.1 275 L321.9 259.7Z" fill="#dddddd" filter="url(#b2)"/><path d="M320.6 231.7 L328.2 257.1 L338.5 273.7 L348.7 287.7" fill="none" stroke="#cecece" stroke-width="4" stroke-linecap="round" stroke-linejoin="round" filter="url(#b2)"/><path d="M319.3 229.1 L323.1 244.4" fill="none" stroke="#acacac" stroke-width="3" stroke-linecap="round" stroke-linejoin="round" filter="url(#b1)"/><path d="M327 234.2 L337.2 231.7 L338.5 247 L329.5 252.1Z" fill="#dddddd" filter="url(#b2)"/></g></g>
<g clip-path="url(#cE)"><g filter="url(#bands)"><rect x="100" y="90" width="560" height="530" fill="#f5f5f5"/><path d="M550.3 460.8 L569.4 473.5 L586 486.3" fill="none" stroke="#cecece" stroke-width="5" stroke-linecap="round" stroke-linejoin="round" filter="url(#b2)"/><path d="M550.3 460.8 L569.4 473.5 L586 486.3" fill="none" stroke="#dddddd" stroke-width="12" stroke-linecap="round" stroke-linejoin="round" filter="url(#b2)"/><path d="M550.3 460.8 L569.4 473.5 L586 486.3" fill="none" stroke="#cecece" stroke-width="5" stroke-linecap="round" stroke-linejoin="round" filter="url(#b1)"/><path d="M582.2 471 L597.5 473.5 L597.5 488.8 L584.7 488.8Z" fill="#dddddd" filter="url(#b2)"/></g></g>
<path d="M287.9 140.9 L293.7 140.6 L297.5 134 L302.4 128.5 L306.8 127.4 L304.6 132.1 L299.5 137.2 L295.2 143.8 L290.1 151 L287.2 155.4Z" fill="#0040e0" stroke="#000" stroke-width="1"/>
<g fill="none" stroke="#000" stroke-width="1.3" stroke-linejoin="round"><use href="#pW"/><use href="#pS"/><use href="#pN"/><use href="#pE"/></g>
<use href="#coast"/>
</g>
<path d="M951.3 104.2 V614.5 M1162.6 104.2 V614.5 M787 563.4 H1310.7 M787 479.2 H1310.7 M787 394 H1310.7 M787 309.7 H1310.7 M787 225.4 H1310.7 M787 140 H1310.7" fill="none" stroke="#2f8fff" stroke-width="1.8" stroke-dasharray="4.3 4.4"/>
<rect x="787" y="104.2" width="523.7" height="510.3" fill="none" stroke="#3a3a3a" stroke-width="2.4"/>
<path d="M787 614.2 h-6 M787 597.3 h-6 M787 580.3 h-6 M787 563.4 h-9.5 M787 546.5 h-6 M787 529.5 h-6 M787 512.6 h-6 M787 495.7 h-6 M787 478.7 h-9.5 M787 461.8 h-6 M787 444.8 h-6 M787 427.9 h-6 M787 411 h-6 M787 394 h-9.5 M787 377.1 h-6 M787 360.2 h-6 M787 343.2 h-6 M787 326.3 h-6 M787 309.4 h-9.5 M787 292.4 h-6 M787 275.5 h-6 M787 258.6 h-6 M787 241.6 h-6 M787 224.7 h-9.5 M787 207.7 h-6 M787 190.8 h-6 M787 173.9 h-6 M787 156.9 h-6 M787 140 h-9.5 M787 123.1 h-6 M787 106.1 h-6 M803.4 614.5 v6 M824.5 614.5 v6 M845.6 614.5 v6 M866.8 614.5 v6 M887.9 614.5 v6 M909 614.5 v6 M930.2 614.5 v6 M951.3 614.5 v10 M972.4 614.5 v6 M993.6 614.5 v6 M1014.7 614.5 v6 M1035.8 614.5 v6 M1056.9 614.5 v6 M1078.1 614.5 v6 M1099.2 614.5 v6 M1120.3 614.5 v6 M1141.5 614.5 v6 M1162.6 614.5 v10 M1183.7 614.5 v6 M1204.9 614.5 v6 M1226 614.5 v6 M1247.1 614.5 v6 M1268.2 614.5 v6 M1289.4 614.5 v6" fill="none" stroke="#222" stroke-width="1.6"/>
<text x="774" y="574.3" font-size="23.3" text-anchor="end" textLength="87" lengthAdjust="spacingAndGlyphs">4698000</text>
<text x="774" y="489.6" font-size="23.3" text-anchor="end" textLength="87" lengthAdjust="spacingAndGlyphs">4700000</text>
<text x="774" y="404.9" font-size="23.3" text-anchor="end" textLength="87" lengthAdjust="spacingAndGlyphs">4702000</text>
<text x="774" y="320.3" font-size="23.3" text-anchor="end" textLength="87" lengthAdjust="spacingAndGlyphs">4704000</text>
<text x="774" y="235.6" font-size="23.3" text-anchor="end" textLength="87" lengthAdjust="spacingAndGlyphs">4706000</text>
<text x="774" y="150.9" font-size="23.3" text-anchor="end" textLength="87" lengthAdjust="spacingAndGlyphs">4708000</text>
<text x="951.3" y="653.8" font-size="23" text-anchor="middle" textLength="71" lengthAdjust="spacingAndGlyphs">680000</text>
<text x="1162.6" y="653.8" font-size="23" text-anchor="middle" textLength="71" lengthAdjust="spacingAndGlyphs">685000</text>
<text x="678.2" y="81.7" font-size="25" font-weight="bold" textLength="38" lengthAdjust="spacingAndGlyphs" fill="#222">[m]</text>
<text x="1305.4" y="135" font-size="29" text-anchor="end" textLength="247" lengthAdjust="spacingAndGlyphs">07/01/2020 – <tspan font-weight="bold">h</tspan> 00:30</text>
</g>
<g>
<rect x="1446.4" y="106.7" width="525" height="512.6" fill="#dcdcdc"/>
<g transform="matrix(0.99623 0 0 1.00071 1326.678 7.104)">
<g clip-path="url(#cW)"><g filter="url(#bands)"><rect x="100" y="90" width="560" height="530" fill="#0a0a0a"/></g></g>
<g clip-path="url(#cS)"><g filter="url(#bands)"><rect x="100" y="90" width="560" height="530" fill="#0a0a0a"/></g></g>
<g clip-path="url(#cN)"><g filter="url(#bands)"><rect x="100" y="90" width="560" height="530" fill="#f5f5f5"/><ellipse cx="202.7" cy="473.6" rx="46" ry="38.6" fill="url(#rg1)"/><circle cx="320.3" cy="249.2" r="9.2" fill="url(#rg2)"/></g></g>
<g clip-path="url(#cE)"><g filter="url(#bands)"><rect x="100" y="90" width="560" height="530" fill="#f5f5f5"/><ellipse cx="574" cy="481" rx="10.5" ry="10.5" fill="url(#rg3)"/></g></g>
<path d="M287.9 140.9 L293.7 140.6 L297.5 134 L302.4 128.5 L306.8 127.4 L304.6 132.1 L299.5 137.2 L295.2 143.8 L290.1 151 L287.2 155.4Z" fill="#0070c8" stroke="#000" stroke-width="1"/>
<g fill="none" stroke="#000" stroke-width="1.3" stroke-linejoin="round"><use href="#pW"/><use href="#pS"/><use href="#pN"/><use href="#pE"/></g>
<use href="#coast"/>
</g>
<path d="M1611.5 106.7 V619.3 M1822.8 106.7 V619.3 M1446.4 566.7 H1971.4 M1446.4 482.4 H1971.4 M1446.4 397 H1971.4 M1446.4 312.5 H1971.4 M1446.4 228 H1971.4 M1446.4 142.5 H1971.4" fill="none" stroke="#2f8fff" stroke-width="1.8" stroke-dasharray="4.3 4.4"/>
<rect x="1446.4" y="106.7" width="525" height="512.6" fill="none" stroke="#3a3a3a" stroke-width="2.4"/>
<path d="M1446.4 617.6 h-6 M1446.4 600.6 h-6 M1446.4 583.7 h-6 M1446.4 566.7 h-9.5 M1446.4 549.7 h-6 M1446.4 532.8 h-6 M1446.4 515.8 h-6 M1446.4 498.8 h-6 M1446.4 481.9 h-9.5 M1446.4 464.9 h-6 M1446.4 447.9 h-6 M1446.4 431 h-6 M1446.4 414 h-6 M1446.4 397 h-9.5 M1446.4 380.1 h-6 M1446.4 363.1 h-6 M1446.4 346.1 h-6 M1446.4 329.1 h-6 M1446.4 312.2 h-9.5 M1446.4 295.2 h-6 M1446.4 278.2 h-6 M1446.4 261.3 h-6 M1446.4 244.3 h-6 M1446.4 227.3 h-9.5 M1446.4 210.4 h-6 M1446.4 193.4 h-6 M1446.4 176.4 h-6 M1446.4 159.5 h-6 M1446.4 142.5 h-9.5 M1446.4 125.5 h-6 M1446.4 108.6 h-6 M1463.6 619.3 v6 M1484.7 619.3 v6 M1505.8 619.3 v6 M1527 619.3 v6 M1548.1 619.3 v6 M1569.2 619.3 v6 M1590.4 619.3 v6 M1611.5 619.3 v10 M1632.6 619.3 v6 M1653.8 619.3 v6 M1674.9 619.3 v6 M1696 619.3 v6 M1717.2 619.3 v6 M1738.3 619.3 v6 M1759.4 619.3 v6 M1780.5 619.3 v6 M1801.7 619.3 v6 M1822.8 619.3 v10 M1843.9 619.3 v6 M1865.1 619.3 v6 M1886.2 619.3 v6 M1907.3 619.3 v6 M1928.4 619.3 v6 M1949.6 619.3 v6" fill="none" stroke="#222" stroke-width="1.6"/>
<text x="1433.4" y="577.6" font-size="23.3" text-anchor="end" textLength="87" lengthAdjust="spacingAndGlyphs">4698000</text>
<text x="1433.4" y="492.8" font-size="23.3" text-anchor="end" textLength="87" lengthAdjust="spacingAndGlyphs">4700000</text>
<text x="1433.4" y="407.9" font-size="23.3" text-anchor="end" textLength="87" lengthAdjust="spacingAndGlyphs">4702000</text>
<text x="1433.4" y="323.1" font-size="23.3" text-anchor="end" textLength="87" lengthAdjust="spacingAndGlyphs">4704000</text>
<text x="1433.4" y="238.2" font-size="23.3" text-anchor="end" textLength="87" lengthAdjust="spacingAndGlyphs">4706000</text>
<text x="1433.4" y="153.4" font-size="23.3" text-anchor="end" textLength="87" lengthAdjust="spacingAndGlyphs">4708000</text>
<text x="1611.5" y="658.6" font-size="23" text-anchor="middle" textLength="71" lengthAdjust="spacingAndGlyphs">680000</text>
<text x="1822.8" y="658.6" font-size="23" text-anchor="middle" textLength="71" lengthAdjust="spacingAndGlyphs">685000</text>
<text x="1336.8" y="83.7" font-size="25" font-weight="bold" textLength="38" lengthAdjust="spacingAndGlyphs" fill="#222">[m]</text>
<text x="1953" y="135.8" font-size="29" text-anchor="end" textLength="247" lengthAdjust="spacingAndGlyphs">07/01/2020 – <tspan font-weight="bold">h</tspan> 00:30</text>
</g>
<g>
<rect x="120.2" y="703" width="524.5" height="510.5" fill="#dcdcdc"/>
<g transform="matrix(0.99481 0 0 0.99788 1.883 604.187)">
<g clip-path="url(#cW)"><g filter="url(#bands)"><rect x="100" y="90" width="560" height="530" fill="#0a0a0a"/><ellipse cx="163" cy="452" rx="3" ry="5" transform="rotate(-40 163 452)" fill="#3b3b3b" filter="url(#b2)"/></g></g>
<g clip-path="url(#cS)"><g filter="url(#bands)"><rect x="100" y="90" width="560" height="530" fill="#0a0a0a"/><ellipse cx="598" cy="548" rx="3" ry="5" transform="rotate(-30 598 548)" fill="#363636" filter="url(#b2)"/></g></g>
<g clip-path="url(#cN)"><g filter="url(#bands)"><rect x="100" y="90" width="560" height="530" fill="#e2e2e2"/><path d="M314.2 247.8 L324.5 263.1 L321.9 280.9 L316.8 303.8 L305.3 334.4 L297.6 365 L292.5 385.4 L270.8 403.2 L337.3 400.7 L343.6 418.5 L337.3 437.6 L321.9 447.8 L291.2 447.8 L265.7 450.4 L245.2 464.4 L199.2 475.8 L232.5 441.4 L265.7 382.8 L291.2 314 L309.1 258Z" fill="#cecece" filter="url(#b3)"/><path d="M307.9 259.3 L317.3 268.2 L310.4 283.5 L302.7 303.8 L292.5 326.8 L284.1 349.7 L277.2 372.6 L263.1 385.4 L258 390.5 L270.8 354.8 L283.6 319.1 L296.4 283.5Z" fill="#bababa" filter="url(#b2)"/><path d="M306.6 250.3 L315.5 258 L309.1 268.2 L304 265.6Z" fill="#989898" filter="url(#b2)"/><path d="M321.9 340.8 L333.4 349.7 L343.6 359.9 L345.4 372.6 L359 382.8 L353.9 396.8 L339.8 399.4 L329.6 387.9 L314.2 383.3 L298.4 380.8 L301 365 L311.7 353.5Z" fill="#f5f5f5" filter="url(#b2)"/><ellipse cx="338.5" cy="310.2" rx="3" ry="3" transform="rotate(0 338.5 310.2)" fill="#f5f5f5" filter="url(#b1)"/><path d="M360.3 289.8 L379.4 298.7 L384.5 319.1 L373.5 334.4 L371 349.7 L384.5 357.4 L399.9 362.4 L412.6 377.7 L417.8 393.5 L406.3 398.6 L388.4 406.3 L373 407 L370 390.5 L383.8 385.4 L378.1 372.6 L362.8 362.4 L352.6 344.6 L350 326.8 L357.7 308.9Z" fill="#cecece" filter="url(#b2)"/><path d="M392.2 339 L406.3 339 L417 349.7 L424.7 362.4 L449.7 357.4 L468.9 353.5 L459.9 365 L465 377.7 L484.2 380.8 L462.5 385.9 L447.2 373.1 L434.4 378.2 L419 370.6 L406.3 357.9 L390.4 350.2Z" fill="#f5f5f5" filter="url(#b2)"/><path d="M296.4 403.2 L309.1 395.1 L327.5 403.2 L335.2 416 L332.7 431.8 L316.8 439.4 L296.4 441.9 L278.5 439.4 L260.6 444.5 L245.2 454.7 L229.9 467.4 L204.3 475.1 L227.3 449.1 L245.2 431.8 L265.7 424.1 L283.6 416Z" fill="#bababa" filter="url(#b2)"/><path d="M303.5 413.4 L314.2 407.8 L325 416 L322.4 426.7 L306.6 429.2 L298.4 423.6Z" fill="#a7a7a7" filter="url(#b2)"/><path d="M270.8 452.1 L291.2 447 L321.9 449.6 L337.3 441.4 L357.7 416 L364.1 431.2 L347.5 449.1 L333.4 466.9 L323.2 480.9 L301.5 475.8 L270.8 473.3 L241.4 468.2Z" fill="#f5f5f5" filter="url(#b2)"/><path d="M316.8 166.3 L337.3 171.3 L341.1 247.8 L314.2 249.1Z" fill="#bababa" filter="url(#b1)"/><path d="M329.6 191.7 L338.5 186.6 L339.8 245.2 L330.9 237.6 L333.4 212.1Z" fill="#cecece" filter="url(#b2)"/><path d="M319.4 224.9 L327 232.5 L324.5 246.5 L316.8 246.5Z" fill="#989898" filter="url(#b2)"/></g></g>
<g clip-path="url(#cE)"><g filter="url(#bands)"><rect x="100" y="90" width="560" height="530" fill="#f5f5f5"/><path d="M347.5 454.2 L373 448.6 L394 451.1 L394 459.8 L373 462.3 L357.7 467.4 L336 473.3Z" fill="#e2e2e2" filter="url(#b2)"/><path d="M546.8 430 L564.7 431.2 L587.7 444 L603.1 474.6 L600.5 494.9 L582.6 491.1 L577.5 474.6 L572.4 461.8 L562.2 446.5 L549.4 437.6Z" fill="#e2e2e2" filter="url(#b2)"/><path d="M383.3 529.3 L388.4 510.2 L398.6 497.5 L413.9 489.8 L436.9 479.7 L462.5 472 L488 461.8 L513.6 454.2 L534.1 455.4 L551.9 461.8 L572.4 473.3 L585.2 492.4 L551.9 489.8 L526.4 483.5 L500.8 484.8 L475.3 494.9 L449.7 505.1 L424.1 512.8 L398.6 525.5 L383.3 538.3Z" fill="#e2e2e2" filter="url(#b2)"/><path d="M562.2 441.4 L577.5 454.2 L589 472 L585.2 486 L574.9 473.3 L566 454.2Z" fill="#cecece" filter="url(#b2)"/><path d="M482.9 486 L491.9 474 L504.7 475.1 L500.8 486Z" fill="#c4c4c4" filter="url(#b2)"/><path d="M548.1 480.9 L563.4 484.8 L562.2 489.8 L548.1 486Z" fill="#939393" filter="url(#b1)"/></g></g>
<path d="M287.9 140.9 L293.7 140.6 L297.5 134 L302.4 128.5 L306.8 127.4 L304.6 132.1 L299.5 137.2 L295.2 143.8 L290.1 151 L287.2 155.4Z" fill="#00a5a8" stroke="#000" stroke-width="1"/>
<g fill="none" stroke="#000" stroke-width="1.3" stroke-linejoin="round"><use href="#pW"/><use href="#pS"/><use href="#pN"/><use href="#pE"/></g>
<use href="#coast"/>
</g>
<path d="M286.3 703 V1213.5 M497.3 703 V1213.5 M120.2 1162.2 H644.7 M120.2 1078.1 H644.7 M120.2 993 H644.7 M120.2 908.7 H644.7 M120.2 824.5 H644.7 M120.2 739.2 H644.7" fill="none" stroke="#2f8fff" stroke-width="1.8" stroke-dasharray="4.3 4.4"/>
<rect x="120.2" y="703" width="524.5" height="510.5" fill="none" stroke="#3a3a3a" stroke-width="2.4"/>
<path d="M120.2 1213 h-6 M120.2 1196 h-6 M120.2 1179.1 h-6 M120.2 1162.2 h-9.5 M120.2 1145.3 h-6 M120.2 1128.4 h-6 M120.2 1111.4 h-6 M120.2 1094.5 h-6 M120.2 1077.6 h-9.5 M120.2 1060.7 h-6 M120.2 1043.8 h-6 M120.2 1026.8 h-6 M120.2 1009.9 h-6 M120.2 993 h-9.5 M120.2 976.1 h-6 M120.2 959.2 h-6 M120.2 942.2 h-6 M120.2 925.3 h-6 M120.2 908.4 h-9.5 M120.2 891.5 h-6 M120.2 874.6 h-6 M120.2 857.6 h-6 M120.2 840.7 h-6 M120.2 823.8 h-9.5 M120.2 806.9 h-6 M120.2 790 h-6 M120.2 773 h-6 M120.2 756.1 h-6 M120.2 739.2 h-9.5 M120.2 722.3 h-6 M120.2 705.4 h-6 M138.6 1213.5 v6 M159.7 1213.5 v6 M180.8 1213.5 v6 M201.9 1213.5 v6 M223 1213.5 v6 M244.1 1213.5 v6 M265.2 1213.5 v6 M286.3 1213.5 v10 M307.4 1213.5 v6 M328.5 1213.5 v6 M349.6 1213.5 v6 M370.7 1213.5 v6 M391.8 1213.5 v6 M412.9 1213.5 v6 M434 1213.5 v6 M455.1 1213.5 v6 M476.2 1213.5 v6 M497.3 1213.5 v10 M518.4 1213.5 v6 M539.5 1213.5 v6 M560.6 1213.5 v6 M581.7 1213.5 v6 M602.8 1213.5 v6 M623.9 1213.5 v6" fill="none" stroke="#222" stroke-width="1.6"/>
<text x="107.2" y="1173.1" font-size="23.3" text-anchor="end" textLength="87" lengthAdjust="spacingAndGlyphs">4698000</text>
<text x="107.2" y="1088.5" font-size="23.3" text-anchor="end" textLength="87" lengthAdjust="spacingAndGlyphs">4700000</text>
<text x="107.2" y="1003.9" font-size="23.3" text-anchor="end" textLength="87" lengthAdjust="spacingAndGlyphs">4702000</text>
<text x="107.2" y="919.3" font-size="23.3" text-anchor="end" textLength="87" lengthAdjust="spacingAndGlyphs">4704000</text>
<text x="107.2" y="834.7" font-size="23.3" text-anchor="end" textLength="87" lengthAdjust="spacingAndGlyphs">4706000</text>
<text x="107.2" y="750.1" font-size="23.3" text-anchor="end" textLength="87" lengthAdjust="spacingAndGlyphs">4708000</text>
<text x="286.3" y="1252.8" font-size="23" text-anchor="middle" textLength="71" lengthAdjust="spacingAndGlyphs">680000</text>
<text x="497.3" y="1252.8" font-size="23" text-anchor="middle" textLength="71" lengthAdjust="spacingAndGlyphs">685000</text>
<text x="12.6" y="679.7" font-size="25" font-weight="bold" textLength="38" lengthAdjust="spacingAndGlyphs" fill="#222">[m]</text>
<text x="641" y="733.5" font-size="29" text-anchor="end" textLength="247" lengthAdjust="spacingAndGlyphs">21/01/2020 – <tspan font-weight="bold">h</tspan> 00:30</text>
</g>
<g>
<rect x="787.8" y="705.5" width="524.3" height="511" fill="#dcdcdc"/>
<g transform="matrix(0.99481 0 0 1.00000 669.583 606.400)">
<g clip-path="url(#cW)"><g filter="url(#bands)"><rect x="100" y="90" width="560" height="530" fill="#0a0a0a"/></g></g>
<g clip-path="url(#cS)"><g filter="url(#bands)"><rect x="100" y="90" width="560" height="530" fill="#0a0a0a"/><ellipse cx="600" cy="549" rx="2" ry="4" transform="rotate(-30 600 549)" fill="#363636" filter="url(#b1)"/></g></g>
<g clip-path="url(#cN)"><g filter="url(#bands)"><rect x="100" y="90" width="560" height="530" fill="#f5f5f5"/><path d="M306.9 261 L320.2 264.8 L317.6 287.7 L312.5 308.1 L302.3 328.4 L292.1 348.8 L284.4 371.6 L271.6 389.4 L263.9 404.7 L249.4 413.6 L260.9 386.9 L276.2 351.3 L291.5 308.1 L301.8 275Z" fill="#e2e2e2" filter="url(#b2)"/><path d="M249.4 412.8 L271.1 409.8 L296.7 402.1 L317.1 404.7 L330.4 414.9 L333 427.6 L322.2 438.3 L301.8 440.8 L283.9 440.8 L266 448.4 L250.7 458.6 L237.9 466.2 L209.8 474.6 L232.8 445.4 L245.5 419.9Z" fill="#e2e2e2" filter="url(#b2)"/><path d="M218.7 461.9 L232.8 454.3 L239.9 455.5 L236.6 465.2 L222.5 470.3 L204.6 474.6Z" fill="#c9c9c9" filter="url(#b2)"/><path d="M199.5 475.4 L209.8 469.5 L213.6 472.8 L204.6 475.9Z" fill="#878787" filter="url(#b1)"/><path d="M360.6 291.5 L373.8 299.2 L384.1 313.2 L386.6 328.4 L394.3 336 L383.6 339.1 L381 348.8 L391.2 356.9 L404 362 L416.8 374.7 L429.6 382.3 L451.3 387.4 L424.5 395.8 L398.9 403.4 L383.6 409.8 L368.2 411 L360.6 404.7 L373.3 394.5 L381 386.9 L373.3 376.7 L360.6 366.5 L352.9 353.8 L347.8 338.6 L350.3 325.9 L358 313.2 L360.6 303Z" fill="#e2e2e2" filter="url(#b2)"/><path d="M317.1 165.7 L337.6 170.8 L341.4 248.3 L314.6 249.6Z" fill="#cecece" filter="url(#b1)"/><path d="M318.4 186 L326.1 188.6 L327.3 211.5 L322.2 244.5 L317.1 245.8Z" fill="#bababa" filter="url(#b2)"/><path d="M310.7 250.9 L322.2 249.6 L319.7 261 L309.4 261Z" fill="#a2a2a2" filter="url(#b2)"/></g></g>
<g clip-path="url(#cE)"><g filter="url(#bands)"><rect x="100" y="90" width="560" height="530" fill="#f5f5f5"/><path d="M470.5 399.6 L488.3 400.9 L501.1 409.8 L513.9 417.4 L534.4 422.5 L557.4 425 L577.8 433.9 L593.1 445.4 L603.4 465.7 L605.9 478.4 L603.4 496.2 L588 496.2 L577.8 491.1 L562.5 488.6 L547.1 486.1 L526.7 482.2 L501.1 482.2 L490.9 486.1 L475.6 491.1 L450 496.2 L429.6 503.8 L414.2 512.7 L398.9 525.5 L384.8 539.4 L383 516.6 L391.2 506.4 L406.6 493.7 L424.5 483.5 L450 475.9 L475.6 468.3 L501.1 458.1 L526.7 453 L540 450.5 L526.7 440.3 L508.8 430.1 L490.9 417.4 L475.6 412.3Z" fill="#e2e2e2" filter="url(#b2)"/><path d="M478.1 484.8 L493.5 472.1 L526.7 467 L532.3 475.9 L501.1 487.3 L483.2 491.1Z" fill="#cecece" filter="url(#b2)"/><path d="M493.5 478.4 L506.2 469.5 L521.6 468.3 L526.7 473.8 L508.8 479.7 L498.6 484.8Z" fill="#bababa" filter="url(#b2)"/><path d="M406.6 511.5 L419.3 501.3 L434.7 498.8 L424.5 509.4 L411.7 517.1Z" fill="#cecece" filter="url(#b2)"/><path d="M552.2 481.5 L567.6 486.1 L566.3 490.4 L551 486.1Z" fill="#939393" filter="url(#b1)"/></g></g>
<path d="M287.9 140.9 L293.7 140.6 L297.5 134 L302.4 128.5 L306.8 127.4 L304.6 132.1 L299.5 137.2 L295.2 143.8 L290.1 151 L287.2 155.4Z" fill="#0040e0" stroke="#000" stroke-width="1"/>
<g fill="none" stroke="#000" stroke-width="1.3" stroke-linejoin="round"><use href="#pW"/><use href="#pS"/><use href="#pN"/><use href="#pE"/></g>
<use href="#coast"/>
</g>
<path d="M954 705.5 V1216.5 M1165 705.5 V1216.5 M787.8 1165.6 H1312.1 M787.8 1081.3 H1312.1 M787.8 996 H1312.1 M787.8 911.6 H1312.1 M787.8 827.2 H1312.1 M787.8 741.7 H1312.1" fill="none" stroke="#2f8fff" stroke-width="1.8" stroke-dasharray="4.3 4.4"/>
<rect x="787.8" y="705.5" width="524.3" height="511" fill="none" stroke="#3a3a3a" stroke-width="2.4"/>
<path d="M787.8 1216.5 h-6 M787.8 1199.5 h-6 M787.8 1182.6 h-6 M787.8 1165.6 h-9.5 M787.8 1148.6 h-6 M787.8 1131.7 h-6 M787.8 1114.7 h-6 M787.8 1097.8 h-6 M787.8 1080.8 h-9.5 M787.8 1063.9 h-6 M787.8 1046.9 h-6 M787.8 1030 h-6 M787.8 1013 h-6 M787.8 996 h-9.5 M787.8 979.1 h-6 M787.8 962.1 h-6 M787.8 945.2 h-6 M787.8 928.2 h-6 M787.8 911.3 h-9.5 M787.8 894.3 h-6 M787.8 877.3 h-6 M787.8 860.4 h-6 M787.8 843.4 h-6 M787.8 826.5 h-9.5 M787.8 809.5 h-6 M787.8 792.6 h-6 M787.8 775.6 h-6 M787.8 758.7 h-6 M787.8 741.7 h-9.5 M787.8 724.7 h-6 M787.8 707.8 h-6 M806.3 1216.5 v6 M827.4 1216.5 v6 M848.5 1216.5 v6 M869.6 1216.5 v6 M890.7 1216.5 v6 M911.8 1216.5 v6 M932.9 1216.5 v6 M954 1216.5 v10 M975.1 1216.5 v6 M996.2 1216.5 v6 M1017.3 1216.5 v6 M1038.4 1216.5 v6 M1059.5 1216.5 v6 M1080.6 1216.5 v6 M1101.7 1216.5 v6 M1122.8 1216.5 v6 M1143.9 1216.5 v6 M1165 1216.5 v10 M1186.1 1216.5 v6 M1207.2 1216.5 v6 M1228.3 1216.5 v6 M1249.4 1216.5 v6 M1270.5 1216.5 v6 M1291.6 1216.5 v6" fill="none" stroke="#222" stroke-width="1.6"/>
<text x="774.8" y="1176.5" font-size="23.3" text-anchor="end" textLength="87" lengthAdjust="spacingAndGlyphs">4698000</text>
<text x="774.8" y="1091.7" font-size="23.3" text-anchor="end" textLength="87" lengthAdjust="spacingAndGlyphs">4700000</text>
<text x="774.8" y="1006.9" font-size="23.3" text-anchor="end" textLength="87" lengthAdjust="spacingAndGlyphs">4702000</text>
<text x="774.8" y="922.2" font-size="23.3" text-anchor="end" textLength="87" lengthAdjust="spacingAndGlyphs">4704000</text>
<text x="774.8" y="837.4" font-size="23.3" text-anchor="end" textLength="87" lengthAdjust="spacingAndGlyphs">4706000</text>
<text x="774.8" y="752.6" font-size="23.3" text-anchor="end" textLength="87" lengthAdjust="spacingAndGlyphs">4708000</text>
<text x="954" y="1255.8" font-size="23" text-anchor="middle" textLength="71" lengthAdjust="spacingAndGlyphs">680000</text>
<text x="1165" y="1255.8" font-size="23" text-anchor="middle" textLength="71" lengthAdjust="spacingAndGlyphs">685000</text>
<text x="679.8" y="682.4" font-size="25" font-weight="bold" textLength="38" lengthAdjust="spacingAndGlyphs" fill="#222">[m]</text>
<text x="1305.4" y="735.9" font-size="29" text-anchor="end" textLength="247" lengthAdjust="spacingAndGlyphs">21/01/2020 – <tspan font-weight="bold">h</tspan> 00:30</text>
</g>
<g>
<rect x="1446" y="707.9" width="525.4" height="512.2" fill="#dcdcdc"/>
<g transform="matrix(1.00189 0 0 1.00259 1325.861 609.249)">
<g clip-path="url(#cW)"><g filter="url(#bands)"><rect x="100" y="90" width="560" height="530" fill="#0a0a0a"/><ellipse cx="278" cy="141" rx="7" ry="7" transform="rotate(0 278 141)" fill="#222222" filter="url(#b2)"/></g></g>
<g clip-path="url(#cS)"><g filter="url(#bands)"><rect x="100" y="90" width="560" height="530" fill="#0a0a0a"/></g></g>
<g clip-path="url(#cN)"><g filter="url(#bands)"><rect x="100" y="90" width="560" height="530" fill="#f5f5f5"/><ellipse cx="202.7" cy="473.6" rx="68" ry="57.1" fill="url(#rg4)"/><circle cx="320.3" cy="252" r="32" fill="url(#rg5)"/></g></g>
<g clip-path="url(#cE)"><g filter="url(#bands)"><rect x="100" y="90" width="560" height="530" fill="#f5f5f5"/><ellipse cx="571.5" cy="477" rx="22" ry="22" fill="url(#rg6)"/></g></g>
<path d="M287.9 140.9 L293.7 140.6 L297.5 134 L302.4 128.5 L306.8 127.4 L304.6 132.1 L299.5 137.2 L295.2 143.8 L290.1 151 L287.2 155.4Z" fill="#0040e0" stroke="#000" stroke-width="1"/>
<g fill="none" stroke="#000" stroke-width="1.3" stroke-linejoin="round"><use href="#pW"/><use href="#pS"/><use href="#pN"/><use href="#pE"/></g>
<use href="#coast"/>
</g>
<path d="M1612.3 707.9 V1220.1 M1824.8 707.9 V1220.1 M1446 1169.9 H1971.4 M1446 1085.4 H1971.4 M1446 999.9 H1971.4 M1446 915.2 H1971.4 M1446 830.6 H1971.4 M1446 744.9 H1971.4" fill="none" stroke="#2f8fff" stroke-width="1.8" stroke-dasharray="4.3 4.4"/>
<rect x="1446" y="707.9" width="525.4" height="512.2" fill="none" stroke="#3a3a3a" stroke-width="2.4"/>
<path d="M1446 1203.9 h-6 M1446 1186.9 h-6 M1446 1169.9 h-9.5 M1446 1152.9 h-6 M1446 1135.9 h-6 M1446 1118.9 h-6 M1446 1101.9 h-6 M1446 1084.9 h-9.5 M1446 1067.9 h-6 M1446 1050.9 h-6 M1446 1033.9 h-6 M1446 1016.9 h-6 M1446 999.9 h-9.5 M1446 982.9 h-6 M1446 965.9 h-6 M1446 948.9 h-6 M1446 931.9 h-6 M1446 914.9 h-9.5 M1446 897.9 h-6 M1446 880.9 h-6 M1446 863.9 h-6 M1446 846.9 h-6 M1446 829.9 h-9.5 M1446 812.9 h-6 M1446 795.9 h-6 M1446 778.9 h-6 M1446 761.9 h-6 M1446 744.9 h-9.5 M1446 727.9 h-6 M1446 710.9 h-6 M1463.5 1220.1 v6 M1484.8 1220.1 v6 M1506 1220.1 v6 M1527.3 1220.1 v6 M1548.5 1220.1 v6 M1569.8 1220.1 v6 M1591 1220.1 v6 M1612.3 1220.1 v10 M1633.5 1220.1 v6 M1654.8 1220.1 v6 M1676 1220.1 v6 M1697.3 1220.1 v6 M1718.5 1220.1 v6 M1739.8 1220.1 v6 M1761 1220.1 v6 M1782.3 1220.1 v6 M1803.5 1220.1 v6 M1824.8 1220.1 v10 M1846 1220.1 v6 M1867.3 1220.1 v6 M1888.5 1220.1 v6 M1909.8 1220.1 v6 M1931 1220.1 v6 M1952.3 1220.1 v6" fill="none" stroke="#222" stroke-width="1.6"/>
<text x="1433" y="1180.8" font-size="23.3" text-anchor="end" textLength="87" lengthAdjust="spacingAndGlyphs">4698000</text>
<text x="1433" y="1095.8" font-size="23.3" text-anchor="end" textLength="87" lengthAdjust="spacingAndGlyphs">4700000</text>
<text x="1433" y="1010.8" font-size="23.3" text-anchor="end" textLength="87" lengthAdjust="spacingAndGlyphs">4702000</text>
<text x="1433" y="925.8" font-size="23.3" text-anchor="end" textLength="87" lengthAdjust="spacingAndGlyphs">4704000</text>
<text x="1433" y="840.8" font-size="23.3" text-anchor="end" textLength="87" lengthAdjust="spacingAndGlyphs">4706000</text>
<text x="1433" y="755.8" font-size="23.3" text-anchor="end" textLength="87" lengthAdjust="spacingAndGlyphs">4708000</text>
<text x="1612.3" y="1259.4" font-size="23" text-anchor="middle" textLength="71" lengthAdjust="spacingAndGlyphs">680000</text>
<text x="1824.8" y="1259.4" font-size="23" text-anchor="middle" textLength="71" lengthAdjust="spacingAndGlyphs">685000</text>
<text x="1337.2" y="686.4" font-size="25" font-weight="bold" textLength="38" lengthAdjust="spacingAndGlyphs" fill="#222">[m]</text>
<text x="1953" y="737.1" font-size="29" text-anchor="end" textLength="247" lengthAdjust="spacingAndGlyphs">21/01/2020 – <tspan font-weight="bold">h</tspan> 00:30</text>
</g>
<g>
<rect x="120.6" y="1315.6" width="524.9" height="510.4" fill="#dcdcdc"/>
<g transform="matrix(0.99623 0 0 0.99693 1.378 1217.315)">
<g clip-path="url(#cW)"><g filter="url(#bands)"><rect x="100" y="90" width="560" height="530" fill="#0a0a0a"/><path d="M278 123 L290 123 L290 158 L285 150Z" fill="#7b7b7b" filter="url(#b1)"/><ellipse cx="166" cy="452" rx="3" ry="7" transform="rotate(-50 166 452)" fill="#4a4a4a" filter="url(#b2)"/></g></g>
<g clip-path="url(#cS)"><g filter="url(#bands)"><rect x="100" y="90" width="560" height="530" fill="#0a0a0a"/></g></g>
<g clip-path="url(#cN)"><g filter="url(#bands)"><rect x="100" y="90" width="560" height="530" fill="#cecece"/><path d="M346.2 324.9 L357.7 336.2 L368.4 354 L376.1 371.9 L373.5 385.1 L357.7 395.3 L342.4 405.5 L332.2 409.4 L322.7 397.4 L322.7 377 L327.1 356.6 L333.5 336.2 L339.8 327.2Z" fill="#e2e2e2" filter="url(#b2)"/><path d="M398.5 336.9 L411.3 340.7 L419.5 354 L429.2 361.7 L449.6 359.1 L462.3 355.3 L459.8 367.3 L449.6 374.9 L439.4 380 L424.1 374.9 L413.8 361.7 L403.6 346.4Z" fill="#bababa" filter="url(#b2)"/><path d="M343.1 439.4 L355.1 433.8 L358.2 438.2 L347.5 443.8Z" fill="#bababa" filter="url(#b1)"/><path d="M471.3 380 L485.3 381 L475.1 384.6Z" fill="#f5f5f5" filter="url(#b1)"/><path d="M199.5 475.9 L208.4 469.3 L210.2 473.4 L204.6 475.9Z" fill="#b5b5b5" filter="url(#b1)"/></g></g>
<g clip-path="url(#cE)"><g filter="url(#bands)"><rect x="100" y="90" width="560" height="530" fill="#cecece"/><path d="M411.3 436.4 L436.8 438.9 L475.1 440.2 L508.3 442.8 L524.1 450.9 L510.8 459.1 L487.9 469.3 L462.3 479.5 L436.8 489.7 L416.4 497.3 L398.5 510.1 L378.1 514.2 L360.2 507.5 L347.5 494.8 L340.6 476.4 L347.5 463.7 L367.9 453.5 L378.1 445.8 L398.5 447.1 L411.3 444.5Z" fill="#e2e2e2" filter="url(#b2)"/><path d="M541.5 431.3 L556.8 432.6 L572.6 443.3 L577.7 456.5 L569.5 453.5 L561.9 445.8 L549.1 439.4Z" fill="#bababa" filter="url(#b2)"/><path d="M572.1 442.8 L585.4 450.9 L595.6 468.8 L598.9 479 L596.3 493 L579.7 490.5 L577.2 479 L582.3 466.2 L577.2 453.5Z" fill="#7b7b7b" filter="url(#b3)"/><path d="M586.1 463.7 L595.6 470.1 L597.6 484.1 L587.4 486.6 L584.8 473.9Z" fill="#454545" filter="url(#b2)"/><path d="M578.5 482 L586.1 482 L584.8 487.9 L579.2 487.1Z" fill="#141414" filter="url(#b1)"/><path d="M472.5 489.7 L482.8 481.5 L500.6 473.9 L518.5 468.3 L533.8 468.3 L546.6 475.9 L558 482.8 L551.7 484.6 L533.8 475.7 L515.9 475.7 L500.6 479.5 L485.3 487.1Z" fill="#bababa" filter="url(#b2)"/><path d="M545.3 478.5 L558 483.1 L556.8 485.6 L544 481Z" fill="#8e8e8e" filter="url(#b1)"/></g></g>
<path d="M287.9 140.9 L293.7 140.6 L297.5 134 L302.4 128.5 L306.8 127.4 L304.6 132.1 L299.5 137.2 L295.2 143.8 L290.1 151 L287.2 155.4Z" fill="#aaff00" stroke="#000" stroke-width="1"/>
<g fill="none" stroke="#000" stroke-width="1.3" stroke-linejoin="round"><use href="#pW"/><use href="#pS"/><use href="#pN"/><use href="#pE"/></g>
<use href="#coast"/>
</g>
<path d="M286.2 1315.6 V1826 M497.5 1315.6 V1826 M120.6 1774.8 H645.5 M120.6 1690.8 H645.5 M120.6 1605.8 H645.5 M120.6 1521.5 H645.5 M120.6 1437.4 H645.5 M120.6 1352.2 H645.5" fill="none" stroke="#2f8fff" stroke-width="1.8" stroke-dasharray="4.3 4.4"/>
<rect x="120.6" y="1315.6" width="524.9" height="510.4" fill="none" stroke="#3a3a3a" stroke-width="2.4"/>
<path d="M120.6 1825.5 h-6 M120.6 1808.6 h-6 M120.6 1791.7 h-6 M120.6 1774.8 h-9.5 M120.6 1757.9 h-6 M120.6 1741 h-6 M120.6 1724.1 h-6 M120.6 1707.2 h-6 M120.6 1690.3 h-9.5 M120.6 1673.4 h-6 M120.6 1656.5 h-6 M120.6 1639.6 h-6 M120.6 1622.7 h-6 M120.6 1605.8 h-9.5 M120.6 1588.9 h-6 M120.6 1572 h-6 M120.6 1555 h-6 M120.6 1538.1 h-6 M120.6 1521.2 h-9.5 M120.6 1504.3 h-6 M120.6 1487.4 h-6 M120.6 1470.5 h-6 M120.6 1453.6 h-6 M120.6 1436.7 h-9.5 M120.6 1419.8 h-6 M120.6 1402.9 h-6 M120.6 1386 h-6 M120.6 1369.1 h-6 M120.6 1352.2 h-9.5 M120.6 1335.3 h-6 M120.6 1318.4 h-6 M138.3 1826 v6 M159.4 1826 v6 M180.6 1826 v6 M201.7 1826 v6 M222.8 1826 v6 M243.9 1826 v6 M265.1 1826 v6 M286.2 1826 v10 M307.3 1826 v6 M328.5 1826 v6 M349.6 1826 v6 M370.7 1826 v6 M391.8 1826 v6 M413 1826 v6 M434.1 1826 v6 M455.2 1826 v6 M476.4 1826 v6 M497.5 1826 v10 M518.6 1826 v6 M539.8 1826 v6 M560.9 1826 v6 M582 1826 v6 M603.1 1826 v6 M624.3 1826 v6" fill="none" stroke="#222" stroke-width="1.6"/>
<text x="107.6" y="1785.7" font-size="23.3" text-anchor="end" textLength="87" lengthAdjust="spacingAndGlyphs">4698000</text>
<text x="107.6" y="1701.2" font-size="23.3" text-anchor="end" textLength="87" lengthAdjust="spacingAndGlyphs">4700000</text>
<text x="107.6" y="1616.7" font-size="23.3" text-anchor="end" textLength="87" lengthAdjust="spacingAndGlyphs">4702000</text>
<text x="107.6" y="1532.1" font-size="23.3" text-anchor="end" textLength="87" lengthAdjust="spacingAndGlyphs">4704000</text>
<text x="107.6" y="1447.6" font-size="23.3" text-anchor="end" textLength="87" lengthAdjust="spacingAndGlyphs">4706000</text>
<text x="107.6" y="1363.1" font-size="23.3" text-anchor="end" textLength="87" lengthAdjust="spacingAndGlyphs">4708000</text>
<text x="286.2" y="1865.3" font-size="23" text-anchor="middle" textLength="71" lengthAdjust="spacingAndGlyphs">680000</text>
<text x="497.5" y="1865.3" font-size="23" text-anchor="middle" textLength="71" lengthAdjust="spacingAndGlyphs">685000</text>
<text x="12.6" y="1293.9" font-size="25" font-weight="bold" textLength="38" lengthAdjust="spacingAndGlyphs" fill="#222">[m]</text>
<text x="641" y="1349.3" font-size="29" text-anchor="end" textLength="247" lengthAdjust="spacingAndGlyphs">04/02/2020 – <tspan font-weight="bold">h</tspan> 00:30</text>
</g>
<g>
<rect x="787.8" y="1317" width="529.2" height="515.1" fill="#dcdcdc"/>
<g transform="matrix(1.00613 0 0 1.00778 667.148 1216.947)">
<g clip-path="url(#cW)"><g filter="url(#bands)"><rect x="100" y="90" width="560" height="530" fill="#0a0a0a"/><path d="M278 123 L290 123 L290 158 L285 150Z" fill="#7b7b7b" filter="url(#b1)"/><ellipse cx="166" cy="452" rx="3" ry="7" transform="rotate(-50 166 452)" fill="#4a4a4a" filter="url(#b2)"/></g></g>
<g clip-path="url(#cS)"><g filter="url(#bands)"><rect x="100" y="90" width="560" height="530" fill="#0a0a0a"/></g></g>
<g clip-path="url(#cN)"><g filter="url(#bands)"><rect x="100" y="90" width="560" height="530" fill="#e2e2e2"/><path d="M339.7 338.4 L347.3 337.2 L354.1 346.5 L357.9 359.1 L364.2 369.2 L357.4 377.3 L347.3 386.1 L332.9 387.4 L331.6 366.7 L334.1 349Z" fill="#f5f5f5" filter="url(#b2)"/><path d="M471.1 379.3 L485 381.3 L473.6 384.4Z" fill="#f5f5f5" filter="url(#b1)"/><path d="M199.4 473.9 L207 468.9 L208.8 472.7 L203.2 474.7Z" fill="#bfbfbf" filter="url(#b1)"/></g></g>
<g clip-path="url(#cE)"><g filter="url(#bands)"><rect x="100" y="90" width="560" height="530" fill="#cecece"/><path d="M415.5 435.6 L435.7 438.1 L461 439.4 L498.9 441.9 L521.6 446.9 L537.3 455 L526.7 460.5 L514.1 457.5 L498.9 465.6 L473.6 475.7 L448.4 488.3 L423.1 490.8 L402.9 503.4 L382.7 513.5 L370 520.1 L357.4 513.5 L347.3 498.4 L339.2 480.2 L347.3 467.6 L367.5 457.5 L387.7 447.4 L405.4 444.9Z" fill="#e2e2e2" filter="url(#b2)"/><path d="M549.4 464.6 L559.6 467.1 L575.2 480.2 L569.7 485.8 L557 475.2Z" fill="#e2e2e2" filter="url(#b1)"/><path d="M490.8 485.8 L498.9 475.2 L514.1 468.4 L531.8 468.4 L544.4 474.7 L557.5 482.7 L549.4 485.8 L534.3 478.2 L516.6 475.7 L501.4 482Z" fill="#bababa" filter="url(#b2)"/><path d="M543.1 478.2 L557.5 484 L555.8 486.5 L541.9 480.7Z" fill="#8e8e8e" filter="url(#b1)"/><path d="M555.8 434.3 L567.1 439.4 L575.2 449.9 L569.7 450.5 L562.1 442.9Z" fill="#bababa" filter="url(#b2)"/><path d="M573.5 443.6 L589.9 462.1 L597.5 477.7 L596.2 491.6 L579.8 489.1 L582.3 472.7 L584.8 462.6 L577.2 452.5Z" fill="#878787" filter="url(#b3)"/><path d="M587.4 463.8 L596.2 472.7 L597 485.3 L588.6 487.8 L586.8 475.2Z" fill="#4a4a4a" filter="url(#b2)"/></g></g>
<path d="M287.9 140.9 L293.7 140.6 L297.5 134 L302.4 128.5 L306.8 127.4 L304.6 132.1 L299.5 137.2 L295.2 143.8 L290.1 151 L287.2 155.4Z" fill="#ffaa00" stroke="#000" stroke-width="1"/>
<g fill="none" stroke="#000" stroke-width="1.3" stroke-linejoin="round"><use href="#pW"/><use href="#pS"/><use href="#pN"/><use href="#pE"/></g>
<use href="#coast"/>
</g>
<path d="M954.8 1317 V1832.1 M1168.2 1317 V1832.1 M787.8 1780.5 H1317 M787.8 1695.6 H1317 M787.8 1609.6 H1317 M787.8 1524.5 H1317 M787.8 1439.4 H1317 M787.8 1353.3 H1317" fill="none" stroke="#2f8fff" stroke-width="1.8" stroke-dasharray="4.3 4.4"/>
<rect x="787.8" y="1317" width="529.2" height="515.1" fill="none" stroke="#3a3a3a" stroke-width="2.4"/>
<path d="M787.8 1831.8 h-6 M787.8 1814.7 h-6 M787.8 1797.6 h-6 M787.8 1780.5 h-9.5 M787.8 1763.4 h-6 M787.8 1746.3 h-6 M787.8 1729.2 h-6 M787.8 1712.1 h-6 M787.8 1695.1 h-9.5 M787.8 1678 h-6 M787.8 1660.9 h-6 M787.8 1643.8 h-6 M787.8 1626.7 h-6 M787.8 1609.6 h-9.5 M787.8 1592.5 h-6 M787.8 1575.4 h-6 M787.8 1558.4 h-6 M787.8 1541.3 h-6 M787.8 1524.2 h-9.5 M787.8 1507.1 h-6 M787.8 1490 h-6 M787.8 1472.9 h-6 M787.8 1455.8 h-6 M787.8 1438.7 h-9.5 M787.8 1421.7 h-6 M787.8 1404.6 h-6 M787.8 1387.5 h-6 M787.8 1370.4 h-6 M787.8 1353.3 h-9.5 M787.8 1336.2 h-6 M787.8 1319.1 h-6 M805.4 1832.1 v6 M826.8 1832.1 v6 M848.1 1832.1 v6 M869.4 1832.1 v6 M890.8 1832.1 v6 M912.1 1832.1 v6 M933.5 1832.1 v6 M954.8 1832.1 v10 M976.1 1832.1 v6 M997.5 1832.1 v6 M1018.8 1832.1 v6 M1040.2 1832.1 v6 M1061.5 1832.1 v6 M1082.8 1832.1 v6 M1104.2 1832.1 v6 M1125.5 1832.1 v6 M1146.9 1832.1 v6 M1168.2 1832.1 v10 M1189.5 1832.1 v6 M1210.9 1832.1 v6 M1232.2 1832.1 v6 M1253.6 1832.1 v6 M1274.9 1832.1 v6 M1296.2 1832.1 v6" fill="none" stroke="#222" stroke-width="1.6"/>
<text x="774.8" y="1791.4" font-size="23.3" text-anchor="end" textLength="87" lengthAdjust="spacingAndGlyphs">4698000</text>
<text x="774.8" y="1706" font-size="23.3" text-anchor="end" textLength="87" lengthAdjust="spacingAndGlyphs">4700000</text>
<text x="774.8" y="1620.5" font-size="23.3" text-anchor="end" textLength="87" lengthAdjust="spacingAndGlyphs">4702000</text>
<text x="774.8" y="1535.1" font-size="23.3" text-anchor="end" textLength="87" lengthAdjust="spacingAndGlyphs">4704000</text>
<text x="774.8" y="1449.6" font-size="23.3" text-anchor="end" textLength="87" lengthAdjust="spacingAndGlyphs">4706000</text>
<text x="774.8" y="1364.2" font-size="23.3" text-anchor="end" textLength="87" lengthAdjust="spacingAndGlyphs">4708000</text>
<text x="954.8" y="1871.4" font-size="23" text-anchor="middle" textLength="71" lengthAdjust="spacingAndGlyphs">680000</text>
<text x="1168.2" y="1871.4" font-size="23" text-anchor="middle" textLength="71" lengthAdjust="spacingAndGlyphs">685000</text>
<text x="678.2" y="1294.5" font-size="25" font-weight="bold" textLength="38" lengthAdjust="spacingAndGlyphs" fill="#222">[m]</text>
<text x="1305.4" y="1351.9" font-size="29" text-anchor="end" textLength="247" lengthAdjust="spacingAndGlyphs">04/02/2020 – <tspan font-weight="bold">h</tspan> 00:30</text>
</g>
<g>
<rect x="1450" y="1325.9" width="526.2" height="511.4" fill="#dcdcdc"/>
<g transform="matrix(1.00189 0 0 1.00259 1328.261 1225.749)">
<g clip-path="url(#cW)"><g filter="url(#bands)"><rect x="100" y="90" width="560" height="530" fill="#0a0a0a"/><ellipse cx="278" cy="137" rx="7" ry="7" transform="rotate(0 278 137)" fill="#222222" filter="url(#b2)"/></g></g>
<g clip-path="url(#cS)"><g filter="url(#bands)"><rect x="100" y="90" width="560" height="530" fill="#0a0a0a"/></g></g>
<g clip-path="url(#cN)"><g filter="url(#bands)"><rect x="100" y="90" width="560" height="530" fill="#f5f5f5"/><ellipse cx="202.7" cy="473.6" rx="74" ry="62.2" fill="url(#rg7)"/><circle cx="320.3" cy="256" r="42" fill="url(#rg8)"/></g></g>
<g clip-path="url(#cE)"><g filter="url(#bands)"><rect x="100" y="90" width="560" height="530" fill="#f5f5f5"/><ellipse cx="571.5" cy="477" rx="28" ry="28" fill="url(#rg9)"/></g></g>
<path d="M287.9 140.9 L293.7 140.6 L297.5 134 L302.4 128.5 L306.8 127.4 L304.6 132.1 L299.5 137.2 L295.2 143.8 L290.1 151 L287.2 155.4Z" fill="#0040e0" stroke="#000" stroke-width="1"/>
<g fill="none" stroke="#000" stroke-width="1.3" stroke-linejoin="round"><use href="#pW"/><use href="#pS"/><use href="#pN"/><use href="#pE"/></g>
<use href="#coast"/>
</g>
<path d="M1614.7 1325.9 V1837.3 M1827.2 1325.9 V1837.3 M1450 1786.4 H1976.2 M1450 1701.9 H1976.2 M1450 1616.4 H1976.2 M1450 1531.7 H1976.2 M1450 1447.1 H1976.2 M1450 1361.4 H1976.2" fill="none" stroke="#2f8fff" stroke-width="1.8" stroke-dasharray="4.3 4.4"/>
<rect x="1450" y="1325.9" width="526.2" height="511.4" fill="none" stroke="#3a3a3a" stroke-width="2.4"/>
<path d="M1450 1820.4 h-6 M1450 1803.4 h-6 M1450 1786.4 h-9.5 M1450 1769.4 h-6 M1450 1752.4 h-6 M1450 1735.4 h-6 M1450 1718.4 h-6 M1450 1701.4 h-9.5 M1450 1684.4 h-6 M1450 1667.4 h-6 M1450 1650.4 h-6 M1450 1633.4 h-6 M1450 1616.4 h-9.5 M1450 1599.4 h-6 M1450 1582.4 h-6 M1450 1565.4 h-6 M1450 1548.4 h-6 M1450 1531.4 h-9.5 M1450 1514.4 h-6 M1450 1497.4 h-6 M1450 1480.4 h-6 M1450 1463.4 h-6 M1450 1446.4 h-9.5 M1450 1429.4 h-6 M1450 1412.4 h-6 M1450 1395.4 h-6 M1450 1378.4 h-6 M1450 1361.4 h-9.5 M1450 1344.4 h-6 M1450 1327.4 h-6 M1466 1837.3 v6 M1487.2 1837.3 v6 M1508.5 1837.3 v6 M1529.7 1837.3 v6 M1551 1837.3 v6 M1572.2 1837.3 v6 M1593.5 1837.3 v6 M1614.7 1837.3 v10 M1636 1837.3 v6 M1657.2 1837.3 v6 M1678.5 1837.3 v6 M1699.7 1837.3 v6 M1721 1837.3 v6 M1742.2 1837.3 v6 M1763.5 1837.3 v6 M1784.7 1837.3 v6 M1806 1837.3 v6 M1827.2 1837.3 v10 M1848.5 1837.3 v6 M1869.7 1837.3 v6 M1891 1837.3 v6 M1912.2 1837.3 v6 M1933.5 1837.3 v6 M1954.7 1837.3 v6" fill="none" stroke="#222" stroke-width="1.6"/>
<text x="1437" y="1797.3" font-size="23.3" text-anchor="end" textLength="87" lengthAdjust="spacingAndGlyphs">4698000</text>
<text x="1437" y="1712.3" font-size="23.3" text-anchor="end" textLength="87" lengthAdjust="spacingAndGlyphs">4700000</text>
<text x="1437" y="1627.3" font-size="23.3" text-anchor="end" textLength="87" lengthAdjust="spacingAndGlyphs">4702000</text>
<text x="1437" y="1542.3" font-size="23.3" text-anchor="end" textLength="87" lengthAdjust="spacingAndGlyphs">4704000</text>
<text x="1437" y="1457.3" font-size="23.3" text-anchor="end" textLength="87" lengthAdjust="spacingAndGlyphs">4706000</text>
<text x="1437" y="1372.3" font-size="23.3" text-anchor="end" textLength="87" lengthAdjust="spacingAndGlyphs">4708000</text>
<text x="1614.7" y="1876.6" font-size="23" text-anchor="middle" textLength="71" lengthAdjust="spacingAndGlyphs">680000</text>
<text x="1827.2" y="1876.6" font-size="23" text-anchor="middle" textLength="71" lengthAdjust="spacingAndGlyphs">685000</text>
<text x="1340" y="1302.9" font-size="25" font-weight="bold" textLength="38" lengthAdjust="spacingAndGlyphs" fill="#222">[m]</text>
<text x="1953" y="1351.5" font-size="29" text-anchor="end" textLength="247" lengthAdjust="spacingAndGlyphs">04/02/2020 – <tspan font-weight="bold">h</tspan> 00:30</text>
</g>
<g>
<rect x="127.6" y="1921.8" width="517.9" height="505.5" fill="#dcdcdc"/>
<g transform="matrix(0.98633 0 0 0.98726 9.009 1823.524)">
<g clip-path="url(#cW)"><g filter="url(#bands)"><rect x="100" y="90" width="560" height="530" fill="#0a0a0a"/><ellipse cx="286" cy="140" rx="3" ry="8" transform="rotate(0 286 140)" fill="#363636" filter="url(#b2)"/><ellipse cx="157" cy="442" rx="3" ry="5" transform="rotate(0 157 442)" fill="#363636" filter="url(#b2)"/></g></g>
<g clip-path="url(#cS)"><g filter="url(#bands)"><rect x="100" y="90" width="560" height="530" fill="#0a0a0a"/><ellipse cx="528.8" cy="527.5" rx="13" ry="4" transform="rotate(-8 528.8 527.5)" fill="#222222" filter="url(#b2)"/></g></g>
<g clip-path="url(#cN)"><g filter="url(#bands)"><rect x="100" y="90" width="560" height="530" fill="#bababa"/><path d="M314.8 163.1 L340.6 170.8 L343.2 245.5 L331.6 258.4 L343.7 279 L359.1 286.7 L372.8 294.4 L358.6 296.2 L343.2 297.5 L334.6 305.3 L333.4 325.3 L328.2 356.3 L334.1 379.4 L328.2 392.8 L309.6 405.7 L294.2 405.7 L285.9 392.3 L285.9 366.6 L278.7 363.5 L269.7 366.6 L281.3 340.8 L294.2 304.7 L304.5 271.3 L309.6 250.7 L313.5 245.5Z" fill="#a7a7a7" filter="url(#b3)"/><path d="M318.7 176 L334.1 181.1 L334.9 245.5 L330.8 256.3 L338.5 273.8 L330.8 282.1 L325.6 299.6 L328.2 315 L320.5 335.6 L315.3 354.2 L304 349 L306.5 325.3 L309.1 299.6 L307.8 273.8 L314.3 248.1Z" fill="#939393" filter="url(#b3)"/><path d="M345.7 310.7 L358.6 312 L372 325.3 L384.9 338.2 L397.8 351.1 L415.8 358.8 L423.6 366.6 L472 352.4 L461.7 366.6 L486.2 382.5 L451.4 388.4 L426.9 396.2 L418.4 385.1 L408.1 374.3 L397.3 376.9 L390.1 389.7 L379.8 402.6 L372 415.5 L359.1 428.4 L348.8 443.8 L333.4 464.4 L323.8 482.4 L309.6 467.5 L306.5 459.8 L271 452.1 L243.9 454.6 L249.8 433.5 L260.1 418.1 L271 415 L286.4 423.2 L301.9 431.5 L317.4 423.7 L332.8 408.3 L343.7 392.3 L341.1 374.3 L335.4 356.3 L336.2 330.5 L340.1 315Z" fill="#cecece" filter="url(#b3)"/><path d="M198.8 478.6 L209.1 468.3 L216.8 469.6 L209.1 477.8Z" fill="#9d9d9d" filter="url(#b2)"/><path d="M475.9 379.9 L487.5 382.5 L477.2 385.1Z" fill="#e2e2e2" filter="url(#b1)"/></g></g>
<g clip-path="url(#cE)"><g filter="url(#bands)"><rect x="100" y="90" width="560" height="530" fill="#cecece"/><path d="M345.7 452.8 L374.1 443.3 L389.6 440.7 L425.6 427.8 L451.4 417.5 L472 405.2 L490.1 406.5 L503.5 420.6 L516.4 433.5 L529.3 449 L549.9 464.4 L567.9 477.3 L600.9 495.3 L559.7 485.5 L541.6 477.8 L518.4 475.2 L500.4 481.2 L500.9 464.4 L477.2 454.1 L461.7 449 L446.3 450.3 L433.4 456.7 L420.5 464.9 L410.2 459.3 L399.9 449 L384.4 445.1 L358.6 454.6Z" fill="#bababa" filter="url(#b3)"/><path d="M504.3 419.3 L523.6 425.3 L554.5 429.7 L575.7 440.7 L591.9 459.3 L599.6 477.3 L597.1 495.3 L580.3 488.1 L572.6 477.8 L554.5 467.5 L539.1 452.1 L523.6 441.8 L513.3 431.5Z" fill="#a7a7a7" filter="url(#b3)"/><path d="M536.5 432.2 L554.5 430.9 L575.7 441.8 L589.3 456.7 L580.3 454.6 L564.8 446.9 L549.4 444.3 L539.1 439.2Z" fill="#939393" filter="url(#b2)"/><path d="M587.5 476.8 L597.1 479.4 L595.8 494 L585.5 490.7Z" fill="#878787" filter="url(#b2)"/></g></g>
<path d="M287.9 140.9 L293.7 140.6 L297.5 134 L302.4 128.5 L306.8 127.4 L304.6 132.1 L299.5 137.2 L295.2 143.8 L290.1 151 L287.2 155.4Z" fill="#00a5a8" stroke="#000" stroke-width="1"/>
<g fill="none" stroke="#000" stroke-width="1.3" stroke-linejoin="round"><use href="#pW"/><use href="#pS"/><use href="#pN"/><use href="#pE"/></g>
<use href="#coast"/>
</g>
<path d="M291 1921.8 V2427.3 M500.2 1921.8 V2427.3 M127.6 2375.6 H645.5 M127.6 2292.4 H645.5 M127.6 2208.2 H645.5 M127.6 2124.8 H645.5 M127.6 2041.5 H645.5 M127.6 1957.1 H645.5" fill="none" stroke="#2f8fff" stroke-width="1.8" stroke-dasharray="4.3 4.4"/>
<rect x="127.6" y="1921.8" width="517.9" height="505.5" fill="none" stroke="#3a3a3a" stroke-width="2.4"/>
<path d="M127.6 2425.8 h-6 M127.6 2409.1 h-6 M127.6 2392.3 h-6 M127.6 2375.6 h-9.5 M127.6 2358.9 h-6 M127.6 2342.1 h-6 M127.6 2325.4 h-6 M127.6 2308.6 h-6 M127.6 2291.9 h-9.5 M127.6 2275.2 h-6 M127.6 2258.4 h-6 M127.6 2241.7 h-6 M127.6 2224.9 h-6 M127.6 2208.2 h-9.5 M127.6 2191.5 h-6 M127.6 2174.7 h-6 M127.6 2158 h-6 M127.6 2141.2 h-6 M127.6 2124.5 h-9.5 M127.6 2107.8 h-6 M127.6 2091 h-6 M127.6 2074.3 h-6 M127.6 2057.5 h-6 M127.6 2040.8 h-9.5 M127.6 2024.1 h-6 M127.6 2007.3 h-6 M127.6 1990.6 h-6 M127.6 1973.8 h-6 M127.6 1957.1 h-9.5 M127.6 1940.4 h-6 M127.6 1923.6 h-6 M144.6 2427.3 v6 M165.5 2427.3 v6 M186.4 2427.3 v6 M207.3 2427.3 v6 M228.2 2427.3 v6 M249.2 2427.3 v6 M270.1 2427.3 v6 M291 2427.3 v10 M311.9 2427.3 v6 M332.8 2427.3 v6 M353.8 2427.3 v6 M374.7 2427.3 v6 M395.6 2427.3 v6 M416.5 2427.3 v6 M437.4 2427.3 v6 M458.4 2427.3 v6 M479.3 2427.3 v6 M500.2 2427.3 v10 M521.1 2427.3 v6 M542 2427.3 v6 M563 2427.3 v6 M583.9 2427.3 v6 M604.8 2427.3 v6 M625.7 2427.3 v6" fill="none" stroke="#222" stroke-width="1.6"/>
<text x="114.6" y="2386.5" font-size="23.3" text-anchor="end" textLength="87" lengthAdjust="spacingAndGlyphs">4698000</text>
<text x="114.6" y="2302.8" font-size="23.3" text-anchor="end" textLength="87" lengthAdjust="spacingAndGlyphs">4700000</text>
<text x="114.6" y="2219.1" font-size="23.3" text-anchor="end" textLength="87" lengthAdjust="spacingAndGlyphs">4702000</text>
<text x="114.6" y="2135.4" font-size="23.3" text-anchor="end" textLength="87" lengthAdjust="spacingAndGlyphs">4704000</text>
<text x="114.6" y="2051.7" font-size="23.3" text-anchor="end" textLength="87" lengthAdjust="spacingAndGlyphs">4706000</text>
<text x="114.6" y="1968" font-size="23.3" text-anchor="end" textLength="87" lengthAdjust="spacingAndGlyphs">4708000</text>
<text x="291" y="2466.6" font-size="23" text-anchor="middle" textLength="71" lengthAdjust="spacingAndGlyphs">680000</text>
<text x="500.2" y="2466.6" font-size="23" text-anchor="middle" textLength="71" lengthAdjust="spacingAndGlyphs">685000</text>
<text x="19.6" y="1898.9" font-size="25" font-weight="bold" textLength="38" lengthAdjust="spacingAndGlyphs" fill="#222">[m]</text>
<text x="611.5" y="2500.7" font-size="25" font-weight="bold" textLength="38" lengthAdjust="spacingAndGlyphs" fill="#222">[m]</text>
<text x="641" y="1949.3" font-size="29" text-anchor="end" textLength="247" lengthAdjust="spacingAndGlyphs">18/02/2020 – <tspan font-weight="bold">h</tspan> 00:30</text>
</g>
<g>
<rect x="793" y="1924.4" width="526.2" height="512.9" fill="#dcdcdc"/>
<g transform="matrix(1.00236 0 0 1.00519 673.026 1824.398)">
<g clip-path="url(#cW)"><g filter="url(#bands)"><rect x="100" y="90" width="560" height="530" fill="#0a0a0a"/><ellipse cx="285" cy="142" rx="4" ry="7" transform="rotate(0 285 142)" fill="#3b3b3b" filter="url(#b2)"/><ellipse cx="166" cy="452" rx="3" ry="7" transform="rotate(-50 166 452)" fill="#404040" filter="url(#b2)"/></g></g>
<g clip-path="url(#cS)"><g filter="url(#bands)"><rect x="100" y="90" width="560" height="530" fill="#0a0a0a"/></g></g>
<g clip-path="url(#cN)"><g filter="url(#bands)"><rect x="100" y="90" width="560" height="530" fill="#cecece"/><path d="M347.7 308.5 L360.4 311 L371 326.7 L378.7 347 L386.3 364.7 L391.3 377.3 L383.7 397.5 L378.7 415.2 L363.4 433 L350.8 448.1 L338.1 463.3 L327.9 482.3 L319.8 479 L307.1 466.3 L297 456.2 L279.2 453.7 L261.5 456.2 L253.3 443.1 L261 430.4 L276.7 424.9 L297 426.1 L314.7 419.8 L332.5 407.2 L342.6 392.5 L345.2 374.8 L337.6 357.1 L334.5 336.8 L339.6 316.6Z" fill="#e2e2e2" filter="url(#b3)"/><path d="M433.4 359.6 L470.7 353.3 L459.3 364.7 L464.4 374.8 L486 382.9 L461.9 386.2 L444.1 388.7 L437.3 377.3Z" fill="#e2e2e2" filter="url(#b2)"/><path d="M307.1 257.9 L333.8 255.4 L345.7 278.7 L335.5 288.8 L330.5 301.4 L327.9 321.7 L317.8 339.9 L309.2 341.1 L304.1 326.7 L302.1 301.4 L297 311.5 L298.2 331.8 L291.9 357.1 L281.8 382.4 L271.6 403.1 L256.4 410.7 L246.2 428.4 L233.6 448.6 L215.8 466.3 L198 474.7 L228.5 445.6 L251.3 402.6 L271.6 359.6 L289.4 314.1 L302.1 273.6Z" fill="#bababa" filter="url(#b3)"/><path d="M291.4 321.7 L297 309 L303.3 311.5 L304.6 331.8 L298.2 352 L293.2 347Z" fill="#cecece" filter="url(#b2)"/><path d="M314.7 162.3 L340.1 169.9 L342.6 247 L313.5 258.4Z" fill="#bababa" filter="url(#b1)"/><path d="M323.6 180 L335 177.5 L334.5 210.4 L327.4 207.8Z" fill="#a7a7a7" filter="url(#b2)"/><path d="M318.5 242 L328.7 240.7 L326.1 259.7 L317.3 261Z" fill="#a7a7a7" filter="url(#b2)"/><path d="M326.1 223 L333.8 220.5 L334.5 233.1 L327.4 233.1Z" fill="#d3d3d3" filter="url(#b1)"/></g></g>
<g clip-path="url(#cE)"><g filter="url(#bands)"><rect x="100" y="90" width="560" height="530" fill="#cecece"/><path d="M524.8 429.9 L550.6 431.2 L571.4 438 L586.7 450.7 L597.6 470.9 L599.3 492.4 L587.4 492.4 L583.6 476 L581.1 460.8 L576 458.2 L573.5 471.4 L560.8 468.9 L550.6 456.2 L532.9 446.1 L525.3 438Z" fill="#bababa" filter="url(#b2)"/><path d="M512.1 476.5 L525.3 473.4 L538 478.5 L556.2 485.3 L550.6 487.1 L532.9 482.8 L515.1 480.3Z" fill="#bababa" filter="url(#b2)"/><path d="M581.1 479 L588.2 476 L587.4 484.8 L581.1 486.6Z" fill="#8e8e8e" filter="url(#b1)"/><path d="M343.9 457.7 L354.1 457 L352.8 461.3 L342.6 463.3Z" fill="#e2e2e2" filter="url(#b1)"/></g></g>
<path d="M287.9 140.9 L293.7 140.6 L297.5 134 L302.4 128.5 L306.8 127.4 L304.6 132.1 L299.5 137.2 L295.2 143.8 L290.1 151 L287.2 155.4Z" fill="#00c878" stroke="#000" stroke-width="1"/>
<g fill="none" stroke="#000" stroke-width="1.3" stroke-linejoin="round"><use href="#pW"/><use href="#pS"/><use href="#pN"/><use href="#pE"/></g>
<use href="#coast"/>
</g>
<path d="M959.6 1924.4 V2437.3 M1172.2 1924.4 V2437.3 M793 2386.5 H1319.2 M793 2301.8 H1319.2 M793 2216.1 H1319.2 M793 2131.1 H1319.2 M793 2046.3 H1319.2 M793 1960.4 H1319.2" fill="none" stroke="#2f8fff" stroke-width="1.8" stroke-dasharray="4.3 4.4"/>
<rect x="793" y="1924.4" width="526.2" height="512.9" fill="none" stroke="#3a3a3a" stroke-width="2.4"/>
<path d="M793 2420.6 h-6 M793 2403.5 h-6 M793 2386.5 h-9.5 M793 2369.5 h-6 M793 2352.4 h-6 M793 2335.4 h-6 M793 2318.3 h-6 M793 2301.3 h-9.5 M793 2284.2 h-6 M793 2267.2 h-6 M793 2250.1 h-6 M793 2233.1 h-6 M793 2216.1 h-9.5 M793 2199 h-6 M793 2182 h-6 M793 2164.9 h-6 M793 2147.9 h-6 M793 2130.8 h-9.5 M793 2113.8 h-6 M793 2096.8 h-6 M793 2079.7 h-6 M793 2062.7 h-6 M793 2045.6 h-9.5 M793 2028.6 h-6 M793 2011.5 h-6 M793 1994.5 h-6 M793 1977.4 h-6 M793 1960.4 h-9.5 M793 1943.4 h-6 M793 1926.3 h-6 M810.8 2437.3 v6 M832 2437.3 v6 M853.3 2437.3 v6 M874.6 2437.3 v6 M895.8 2437.3 v6 M917.1 2437.3 v6 M938.3 2437.3 v6 M959.6 2437.3 v10 M980.9 2437.3 v6 M1002.1 2437.3 v6 M1023.4 2437.3 v6 M1044.6 2437.3 v6 M1065.9 2437.3 v6 M1087.2 2437.3 v6 M1108.4 2437.3 v6 M1129.7 2437.3 v6 M1150.9 2437.3 v6 M1172.2 2437.3 v10 M1193.5 2437.3 v6 M1214.7 2437.3 v6 M1236 2437.3 v6 M1257.2 2437.3 v6 M1278.5 2437.3 v6 M1299.8 2437.3 v6" fill="none" stroke="#222" stroke-width="1.6"/>
<text x="780" y="2397.4" font-size="23.3" text-anchor="end" textLength="87" lengthAdjust="spacingAndGlyphs">4698000</text>
<text x="780" y="2312.2" font-size="23.3" text-anchor="end" textLength="87" lengthAdjust="spacingAndGlyphs">4700000</text>
<text x="780" y="2227" font-size="23.3" text-anchor="end" textLength="87" lengthAdjust="spacingAndGlyphs">4702000</text>
<text x="780" y="2141.7" font-size="23.3" text-anchor="end" textLength="87" lengthAdjust="spacingAndGlyphs">4704000</text>
<text x="780" y="2056.5" font-size="23.3" text-anchor="end" textLength="87" lengthAdjust="spacingAndGlyphs">4706000</text>
<text x="780" y="1971.3" font-size="23.3" text-anchor="end" textLength="87" lengthAdjust="spacingAndGlyphs">4708000</text>
<text x="959.6" y="2476.6" font-size="23" text-anchor="middle" textLength="71" lengthAdjust="spacingAndGlyphs">680000</text>
<text x="1172.2" y="2476.6" font-size="23" text-anchor="middle" textLength="71" lengthAdjust="spacingAndGlyphs">685000</text>
<text x="683.8" y="1900.8" font-size="25" font-weight="bold" textLength="38" lengthAdjust="spacingAndGlyphs" fill="#222">[m]</text>
<text x="1283.4" y="2512.4" font-size="25" font-weight="bold" textLength="38" lengthAdjust="spacingAndGlyphs" fill="#222">[m]</text>
<text x="1305.4" y="1951.1" font-size="29" text-anchor="end" textLength="247" lengthAdjust="spacingAndGlyphs">18/02/2020 – <tspan font-weight="bold">h</tspan> 00:30</text>
</g>
<g>
<rect x="1446" y="1927.1" width="525" height="510.2" fill="#dcdcdc"/>
<g transform="matrix(0.99434 0 0 1.00047 1327.218 1826.936)">
<g clip-path="url(#cW)"><g filter="url(#bands)"><rect x="100" y="90" width="560" height="530" fill="#0a0a0a"/></g></g>
<g clip-path="url(#cS)"><g filter="url(#bands)"><rect x="100" y="90" width="560" height="530" fill="#0a0a0a"/></g></g>
<g clip-path="url(#cN)"><g filter="url(#bands)"><rect x="100" y="90" width="560" height="530" fill="#f5f5f5"/><ellipse cx="202.7" cy="473.6" rx="80" ry="67.2" fill="url(#rg10)"/><circle cx="320.3" cy="257" r="52" fill="url(#rg11)"/></g></g>
<g clip-path="url(#cE)"><g filter="url(#bands)"><rect x="100" y="90" width="560" height="530" fill="#f5f5f5"/><ellipse cx="571.5" cy="477" rx="34" ry="34" fill="url(#rg12)"/></g></g>
<path d="M287.9 140.9 L293.7 140.6 L297.5 134 L302.4 128.5 L306.8 127.4 L304.6 132.1 L299.5 137.2 L295.2 143.8 L290.1 151 L287.2 155.4Z" fill="#0040e0" stroke="#000" stroke-width="1"/>
<g fill="none" stroke="#000" stroke-width="1.3" stroke-linejoin="round"><use href="#pW"/><use href="#pS"/><use href="#pN"/><use href="#pE"/></g>
<use href="#coast"/>
</g>
<path d="M1611.5 1927.1 V2437.3 M1822.4 1927.1 V2437.3 M1446 2386.4 H1971 M1446 2302.1 H1971 M1446 2216.8 H1971 M1446 2132.2 H1971 M1446 2047.8 H1971 M1446 1962.3 H1971" fill="none" stroke="#2f8fff" stroke-width="1.8" stroke-dasharray="4.3 4.4"/>
<rect x="1446" y="1927.1" width="525" height="510.2" fill="none" stroke="#3a3a3a" stroke-width="2.4"/>
<path d="M1446 2437.3 h-6 M1446 2420.3 h-6 M1446 2403.4 h-6 M1446 2386.4 h-9.5 M1446 2369.4 h-6 M1446 2352.5 h-6 M1446 2335.5 h-6 M1446 2318.5 h-6 M1446 2301.6 h-9.5 M1446 2284.6 h-6 M1446 2267.7 h-6 M1446 2250.7 h-6 M1446 2233.7 h-6 M1446 2216.8 h-9.5 M1446 2199.8 h-6 M1446 2182.8 h-6 M1446 2165.9 h-6 M1446 2148.9 h-6 M1446 2131.9 h-9.5 M1446 2115 h-6 M1446 2098 h-6 M1446 2081 h-6 M1446 2064.1 h-6 M1446 2047.1 h-9.5 M1446 2030.2 h-6 M1446 2013.2 h-6 M1446 1996.2 h-6 M1446 1979.3 h-6 M1446 1962.3 h-9.5 M1446 1945.3 h-6 M1446 1928.4 h-6 M1463.9 2437.3 v6 M1485 2437.3 v6 M1506 2437.3 v6 M1527.1 2437.3 v6 M1548.2 2437.3 v6 M1569.3 2437.3 v6 M1590.4 2437.3 v6 M1611.5 2437.3 v10 M1632.6 2437.3 v6 M1653.7 2437.3 v6 M1674.8 2437.3 v6 M1695.9 2437.3 v6 M1717 2437.3 v6 M1738 2437.3 v6 M1759.1 2437.3 v6 M1780.2 2437.3 v6 M1801.3 2437.3 v6 M1822.4 2437.3 v10 M1843.5 2437.3 v6 M1864.6 2437.3 v6 M1885.7 2437.3 v6 M1906.8 2437.3 v6 M1927.9 2437.3 v6 M1948.9 2437.3 v6" fill="none" stroke="#222" stroke-width="1.6"/>
<text x="1433" y="2397.3" font-size="23.3" text-anchor="end" textLength="87" lengthAdjust="spacingAndGlyphs">4698000</text>
<text x="1433" y="2312.5" font-size="23.3" text-anchor="end" textLength="87" lengthAdjust="spacingAndGlyphs">4700000</text>
<text x="1433" y="2227.7" font-size="23.3" text-anchor="end" textLength="87" lengthAdjust="spacingAndGlyphs">4702000</text>
<text x="1433" y="2142.8" font-size="23.3" text-anchor="end" textLength="87" lengthAdjust="spacingAndGlyphs">4704000</text>
<text x="1433" y="2058" font-size="23.3" text-anchor="end" textLength="87" lengthAdjust="spacingAndGlyphs">4706000</text>
<text x="1433" y="1973.2" font-size="23.3" text-anchor="end" textLength="87" lengthAdjust="spacingAndGlyphs">4708000</text>
<text x="1611.5" y="2476.6" font-size="23" text-anchor="middle" textLength="71" lengthAdjust="spacingAndGlyphs">680000</text>
<text x="1822.4" y="2476.6" font-size="23" text-anchor="middle" textLength="71" lengthAdjust="spacingAndGlyphs">685000</text>
<text x="1337.2" y="1902.9" font-size="25" font-weight="bold" textLength="38" lengthAdjust="spacingAndGlyphs" fill="#222">[m]</text>
<text x="1934" y="2500.7" font-size="25" font-weight="bold" textLength="38" lengthAdjust="spacingAndGlyphs" fill="#222">[m]</text>
<text x="1953" y="1955.1" font-size="29" text-anchor="end" textLength="247" lengthAdjust="spacingAndGlyphs">18/02/2020 – <tspan font-weight="bold">h</tspan> 00:30</text>
</g>
<text x="380.2" y="34" font-size="31" text-anchor="middle" font-weight="bold" textLength="41" lengthAdjust="spacingAndGlyphs">(a)</text>
<text x="404" y="76" font-size="36" text-anchor="middle" textLength="235" lengthAdjust="spacingAndGlyphs">Forcing: TWM</text>
<text x="1050.5" y="37" font-size="31" text-anchor="middle" font-weight="bold" textLength="41" lengthAdjust="spacingAndGlyphs">(b)</text>
<text x="1051.5" y="80" font-size="36" text-anchor="middle" textLength="199" lengthAdjust="spacingAndGlyphs">Forcing: TW</text>
<text x="1713.5" y="45" font-size="31" text-anchor="middle" font-weight="bold" textLength="41" lengthAdjust="spacingAndGlyphs">(c)</text>
<text x="1723.5" y="86" font-size="36" text-anchor="middle" textLength="161" lengthAdjust="spacingAndGlyphs">Forcing: T</text>
<text x="1059" y="2557" font-size="34" text-anchor="middle" font-weight="bold" textLength="434" lengthAdjust="spacingAndGlyphs">Tracer Concentration [%C0]</text><rect x="694.0" y="2572.0" width="51" height="25" fill="#ff0000" stroke="#333" stroke-width="1.4"/><text x="810.5" y="2593.5" font-size="20.5" text-anchor="end" textLength="57" lengthAdjust="spacingAndGlyphs">Above</text><text x="843.5" y="2593.5" font-size="20.5" text-anchor="end" textLength="21.5" lengthAdjust="spacingAndGlyphs">96</text><rect x="694.0" y="2601.0" width="51" height="25" fill="#ff5500" stroke="#333" stroke-width="1.4"/><text x="810.5" y="2622.5" font-size="20.5" text-anchor="end" textLength="33" lengthAdjust="spacingAndGlyphs">88 -</text><text x="843.5" y="2622.5" font-size="20.5" text-anchor="end" textLength="21.5" lengthAdjust="spacingAndGlyphs">96</text><rect x="694.0" y="2629.7" width="51" height="25" fill="#ffaa00" stroke="#333" stroke-width="1.4"/><text x="810.5" y="2651.2" font-size="20.5" text-anchor="end" textLength="33" lengthAdjust="spacingAndGlyphs">80 -</text><text x="843.5" y="2651.2" font-size="20.5" text-anchor="end" textLength="21.5" lengthAdjust="spacingAndGlyphs">88</text><rect x="694.0" y="2658.5" width="51" height="25" fill="#ffff00" stroke="#333" stroke-width="1.4"/><text x="810.5" y="2680" font-size="20.5" text-anchor="end" textLength="33" lengthAdjust="spacingAndGlyphs">72 -</text><text x="843.5" y="2680" font-size="20.5" text-anchor="end" textLength="21.5" lengthAdjust="spacingAndGlyphs">80</text><rect x="884.7" y="2572.0" width="51" height="25" fill="#aaff00" stroke="#333" stroke-width="1.4"/><text x="1001.7" y="2593.5" font-size="20.5" text-anchor="end" textLength="33" lengthAdjust="spacingAndGlyphs">64 -</text><text x="1033.7" y="2593.5" font-size="20.5" text-anchor="end" textLength="21.5" lengthAdjust="spacingAndGlyphs">72</text><rect x="884.7" y="2601.0" width="51" height="25" fill="#55ff00" stroke="#333" stroke-width="1.4"/><text x="1001.7" y="2622.5" font-size="20.5" text-anchor="end" textLength="33" lengthAdjust="spacingAndGlyphs">56 -</text><text x="1033.7" y="2622.5" font-size="20.5" text-anchor="end" textLength="21.5" lengthAdjust="spacingAndGlyphs">64</text><rect x="884.7" y="2629.7" width="51" height="25" fill="#00ff00" stroke="#333" stroke-width="1.4"/><text x="1001.7" y="2651.2" font-size="20.5" text-anchor="end" textLength="33" lengthAdjust="spacingAndGlyphs">48 -</text><text x="1033.7" y="2651.2" font-size="20.5" text-anchor="end" textLength="21.5" lengthAdjust="spacingAndGlyphs">56</text><rect x="884.7" y="2658.5" width="51" height="25" fill="#00dc46" stroke="#333" stroke-width="1.4"/><text x="1001.7" y="2680" font-size="20.5" text-anchor="end" textLength="33" lengthAdjust="spacingAndGlyphs">40 -</text><text x="1033.7" y="2680" font-size="20.5" text-anchor="end" textLength="21.5" lengthAdjust="spacingAndGlyphs">48</text><rect x="1073.4" y="2574.0" width="51" height="25" fill="#00c878" stroke="#333" stroke-width="1.4"/><text x="1189.5" y="2595.5" font-size="20.5" text-anchor="end" textLength="33" lengthAdjust="spacingAndGlyphs">32 -</text><text x="1223.7" y="2595.5" font-size="20.5" text-anchor="end" textLength="21.5" lengthAdjust="spacingAndGlyphs">40</text><rect x="1073.4" y="2603.0" width="51" height="25" fill="#00a5a8" stroke="#333" stroke-width="1.4"/><text x="1189.5" y="2624.5" font-size="20.5" text-anchor="end" textLength="33" lengthAdjust="spacingAndGlyphs">24 -</text><text x="1223.7" y="2624.5" font-size="20.5" text-anchor="end" textLength="21.5" lengthAdjust="spacingAndGlyphs">32</text><rect x="1073.4" y="2631.7" width="51" height="25" fill="#0070c8" stroke="#333" stroke-width="1.4"/><text x="1189.5" y="2653.2" font-size="20.5" text-anchor="end" textLength="33" lengthAdjust="spacingAndGlyphs">16 -</text><text x="1223.7" y="2653.2" font-size="20.5" text-anchor="end" textLength="21.5" lengthAdjust="spacingAndGlyphs">24</text><rect x="1073.4" y="2660.5" width="51" height="25" fill="#0032e6" stroke="#333" stroke-width="1.4"/><text x="1189.5" y="2682" font-size="20.5" text-anchor="end" textLength="22" lengthAdjust="spacingAndGlyphs">8 -</text><text x="1223.7" y="2682" font-size="20.5" text-anchor="end" textLength="21.5" lengthAdjust="spacingAndGlyphs">16</text><rect x="1257.4" y="2595" width="51" height="26" fill="#0000ff" stroke="#333" stroke-width="1.4"/><rect x="1257.4" y="2624" width="51" height="26" fill="#dcdcdc" stroke="#333" stroke-width="1.4"/><text x="1376.5" y="2617.5" font-size="20.5" text-anchor="end" textLength="24.5" lengthAdjust="spacingAndGlyphs">0 -</text><text x="1408" y="2617.5" font-size="20.5" text-anchor="end">8</text><text x="1319" y="2645.5" font-size="20.5" textLength="152" lengthAdjust="spacingAndGlyphs">Undefined Value</text>
</svg></body></html>
